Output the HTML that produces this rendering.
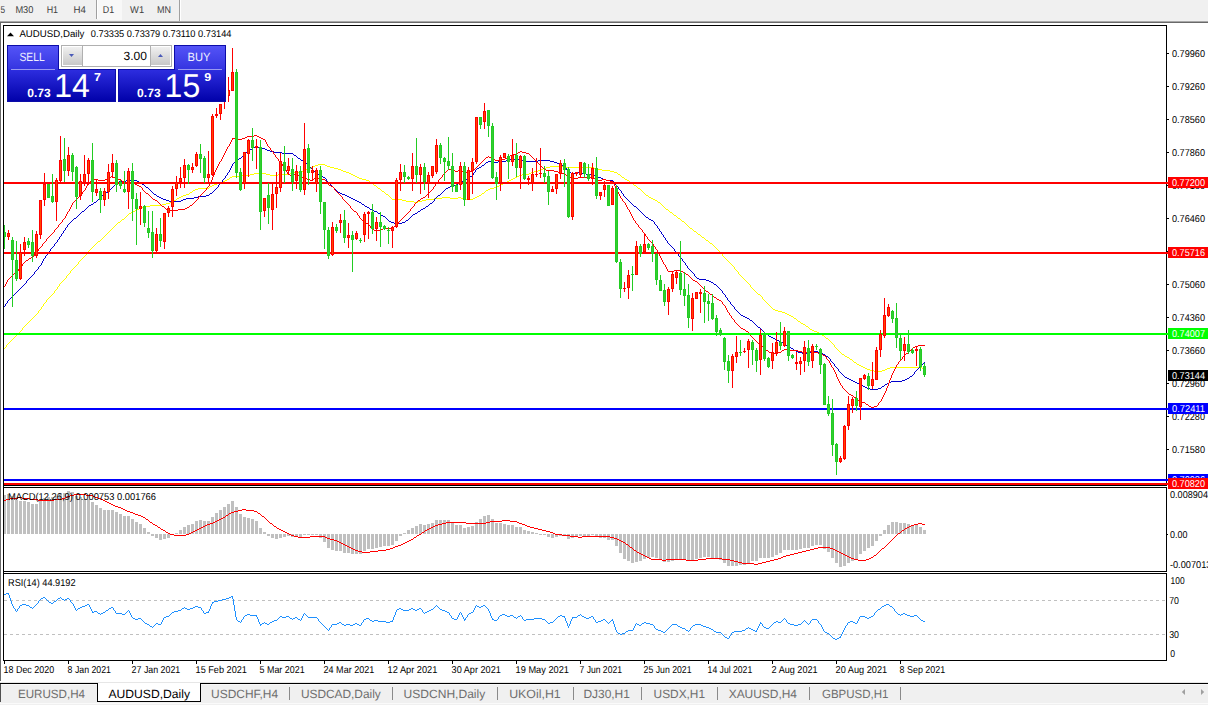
<!DOCTYPE html>
<html><head><meta charset="utf-8"><title>AUDUSD,Daily</title>
<style>html,body{margin:0;padding:0;background:#fff;overflow:hidden}svg{display:block;font-family:"Liberation Sans",sans-serif;text-rendering:geometricPrecision}rect{shape-rendering:crispEdges}</style></head>
<body>
<svg width="1208" height="705" viewBox="0 0 1208 705">
<rect x="0" y="0" width="1208" height="705" fill="#fff"/>
<rect x="0" y="0" width="1208" height="21" fill="#f0f0f0"/>
<rect x="0" y="21" width="1208" height="1" fill="#a8a8a8"/>
<rect x="0" y="22" width="1208" height="1" fill="#696969"/>
<rect x="0" y="22" width="1" height="659" fill="#696969"/>
<rect x="98" y="0" width="24" height="20" fill="#f8f8f8"/>
<rect x="96" y="0" width="1" height="19" fill="#a0a0a0"/>
<rect x="97" y="0" width="1" height="19" fill="#fff"/>
<rect x="179" y="0" width="1" height="21" fill="#a0a0a0"/>
<rect x="180" y="0" width="1" height="21" fill="#fff"/>
<text x="0.6" y="13" font-size="10" fill="#404040" textLength="4.6" lengthAdjust="spacingAndGlyphs">5</text>
<text x="15.4" y="13" font-size="10" fill="#404040" textLength="18.0" lengthAdjust="spacingAndGlyphs">M30</text>
<text x="46.7" y="13" font-size="10" fill="#404040" textLength="11.4" lengthAdjust="spacingAndGlyphs">H1</text>
<text x="73.5" y="13" font-size="10" fill="#404040" textLength="12.4" lengthAdjust="spacingAndGlyphs">H4</text>
<text x="102.8" y="13" font-size="10" fill="#404040" textLength="11.4" lengthAdjust="spacingAndGlyphs">D1</text>
<text x="130.1" y="13" font-size="10" fill="#404040" textLength="14.0" lengthAdjust="spacingAndGlyphs">W1</text>
<text x="157" y="13" font-size="10" fill="#404040" textLength="14.0" lengthAdjust="spacingAndGlyphs">MN</text>
<rect x="3" y="25" width="1164" height="1" fill="#000"/>
<rect x="3" y="25" width="1" height="636" fill="#000"/>
<rect x="1166" y="25" width="1" height="461" fill="#000"/>
<rect x="3" y="485" width="1164" height="1" fill="#000"/>
<rect x="3" y="487" width="1164" height="1" fill="#000"/>
<rect x="1166" y="487" width="1" height="85" fill="#000"/>
<rect x="3" y="571" width="1164" height="1" fill="#000"/>
<rect x="3" y="573" width="1164" height="1" fill="#000"/>
<rect x="1166" y="573" width="1" height="88" fill="#000"/>
<rect x="3" y="660" width="1164" height="1" fill="#000"/>
<rect x="3" y="486" width="1" height="1" fill="#000"/>
<rect x="3" y="572" width="1" height="1" fill="#000"/>
<g clip-path="url(#cm)">
<path d="M318 164h7v1h-7zM315 165h3v1h-3zM325 165h2v1h-2zM313 166h2v1h-2zM327 166h3v1h-3zM550 166h16v1h-16zM311 167h2v1h-2zM330 167h4v1h-4zM546 167h4v1h-4zM566 167h28v1h-28zM309 168h2v1h-2zM334 168h4v1h-4zM543 168h3v1h-3zM594 168h4v1h-4zM306 169h3v1h-3zM338 169h3v1h-3zM541 169h2v1h-2zM598 169h4v1h-4zM303 170h3v1h-3zM341 170h2v1h-2zM538 170h3v1h-3zM602 170h8v1h-8zM301 171h2v1h-2zM343 171h3v1h-3zM534 171h4v1h-4zM610 171h4v1h-4zM294 172h7v1h-7zM346 172h3v1h-3zM531 172h3v1h-3zM614 172h3v1h-3zM254 173h12v1h-12zM290 173h4v1h-4zM349 173h2v1h-2zM529 173h2v1h-2zM617 173h1v1h-1zM250 174h4v1h-4zM266 174h4v1h-4zM278 174h12v1h-12zM351 174h2v1h-2zM522 174h7v1h-7zM618 174h2v1h-2zM242 175h8v1h-8zM270 175h8v1h-8zM353 175h2v1h-2zM519 175h3v1h-3zM620 175h1v1h-1zM232 176h10v1h-10zM355 176h2v1h-2zM517 176h2v1h-2zM621 176h1v1h-1zM230 177h2v1h-2zM357 177h2v1h-2zM515 177h2v1h-2zM622 177h2v1h-2zM229 178h1v1h-1zM359 178h3v1h-3zM513 178h2v1h-2zM624 178h1v1h-1zM227 179h2v1h-2zM362 179h4v1h-4zM511 179h2v1h-2zM625 179h2v1h-2zM225 180h2v1h-2zM366 180h3v1h-3zM509 180h2v1h-2zM627 180h2v1h-2zM222 181h3v1h-3zM369 181h1v1h-1zM507 181h2v1h-2zM629 181h1v1h-1zM219 182h3v1h-3zM370 182h2v1h-2zM505 182h2v1h-2zM630 182h2v1h-2zM217 183h2v1h-2zM372 183h1v1h-1zM503 183h2v1h-2zM632 183h1v1h-1zM214 184h3v1h-3zM373 184h1v1h-1zM501 184h2v1h-2zM633 184h1v1h-1zM212 185h2v1h-2zM374 185h2v1h-2zM499 185h2v1h-2zM634 185h2v1h-2zM210 186h2v1h-2zM376 186h1v1h-1zM497 186h2v1h-2zM636 186h1v1h-1zM209 187h1v1h-1zM377 187h1v1h-1zM494 187h3v1h-3zM637 187h1v1h-1zM198 188h11v1h-11zM378 188h2v1h-2zM490 188h4v1h-4zM638 188h2v1h-2zM195 189h3v1h-3zM380 189h1v1h-1zM488 189h2v1h-2zM640 189h1v1h-1zM193 190h2v1h-2zM381 190h1v1h-1zM486 190h2v1h-2zM641 190h1v1h-1zM192 191h1v1h-1zM382 191h2v1h-2zM485 191h1v1h-1zM642 191h1v1h-1zM190 192h2v1h-2zM384 192h1v1h-1zM484 192h1v1h-1zM643 192h1v1h-1zM189 193h1v1h-1zM385 193h1v1h-1zM482 193h2v1h-2zM644 193h1v1h-1zM186 194h3v1h-3zM386 194h2v1h-2zM481 194h1v1h-1zM645 194h1v1h-1zM183 195h3v1h-3zM388 195h1v1h-1zM479 195h2v1h-2zM646 195h2v1h-2zM181 196h2v1h-2zM389 196h1v1h-1zM477 196h2v1h-2zM648 196h1v1h-1zM179 197h2v1h-2zM390 197h1v1h-1zM442 197h8v1h-8zM458 197h3v1h-3zM475 197h2v1h-2zM649 197h2v1h-2zM177 198h2v1h-2zM391 198h1v1h-1zM434 198h8v1h-8zM450 198h8v1h-8zM461 198h2v1h-2zM473 198h2v1h-2zM651 198h2v1h-2zM176 199h1v1h-1zM392 199h10v1h-10zM426 199h8v1h-8zM463 199h10v1h-10zM653 199h2v1h-2zM174 200h2v1h-2zM402 200h4v1h-4zM422 200h4v1h-4zM655 200h2v1h-2zM173 201h1v1h-1zM406 201h8v1h-8zM418 201h4v1h-4zM657 201h1v1h-1zM170 202h3v1h-3zM414 202h4v1h-4zM658 202h2v1h-2zM166 203h4v1h-4zM660 203h1v1h-1zM162 204h4v1h-4zM661 204h1v1h-1zM150 205h12v1h-12zM662 205h1v1h-1zM143 206h7v1h-7zM663 206h1v1h-1zM141 207h2v1h-2zM664 207h1v1h-1zM139 208h2v1h-2zM665 208h1v1h-1zM137 209h2v1h-2zM666 209h2v1h-2zM135 210h2v1h-2zM668 210h1v1h-1zM133 211h2v1h-2zM669 211h1v1h-1zM131 212h2v1h-2zM670 212h2v1h-2zM129 213h2v1h-2zM672 213h1v1h-1zM128 214h1v1h-1zM673 214h1v1h-1zM127 215h1v1h-1zM674 215h2v1h-2zM126 216h1v1h-1zM676 216h1v1h-1zM125 217h1v1h-1zM677 217h1v1h-1zM124 218h1v1h-1zM678 218h2v1h-2zM122 219h2v1h-2zM680 219h1v1h-1zM121 220h1v1h-1zM681 220h1v1h-1zM120 221h1v1h-1zM682 221h2v1h-2zM118 222h2v1h-2zM684 222h1v1h-1zM117 223h1v1h-1zM685 223h1v1h-1zM116 224h1v1h-1zM686 224h1v1h-1zM115 225h1v1h-1zM687 225h1v1h-1zM114 226h1v1h-1zM688 226h1v1h-1zM113 227h1v1h-1zM689 227h1v1h-1zM112 228h1v1h-1zM690 228h2v1h-2zM111 229h1v1h-1zM692 229h1v1h-1zM110 230h1v1h-1zM693 230h1v1h-1zM109 231h1v1h-1zM694 231h2v1h-2zM108 232h1v1h-1zM696 232h1v1h-1zM107 233h1v1h-1zM697 233h1v1h-1zM106 234h1v1h-1zM698 234h2v1h-2zM105 235h1v1h-1zM700 235h1v1h-1zM104 236h1v1h-1zM701 236h1v1h-1zM103 237h1v1h-1zM702 237h2v1h-2zM102 238h1v1h-1zM704 238h1v1h-1zM101 239h1v1h-1zM705 239h1v1h-1zM100 240h1v1h-1zM706 240h2v1h-2zM98 241h2v1h-2zM708 241h1v1h-1zM97 242h1v1h-1zM709 242h1v1h-1zM96 243h1v1h-1zM710 243h2v1h-2zM95 244h1v1h-1zM712 244h1v1h-1zM94 245h1v1h-1zM713 245h1v1h-1zM93 246h1v1h-1zM714 246h1v1h-1zM92 247h1v1h-1zM715 247h1v1h-1zM91 248h1v1h-1zM716 248h1v1h-1zM90 249h1v1h-1zM717 249h1v1h-1zM89 250h1v1h-1zM718 250h1v1h-1zM88 251h1v1h-1zM719 251h1v1h-1zM87 252h1v1h-1zM720 252h1v1h-1zM86 253h1v1h-1zM721 253h1v1h-1zM86 254h1v1h-1zM722 254h1v1h-1zM85 255h1v1h-1zM722 255h1v1h-1zM84 256h1v1h-1zM723 256h1v1h-1zM83 257h1v1h-1zM724 257h1v1h-1zM82 258h1v1h-1zM725 258h1v1h-1zM81 259h1v1h-1zM726 259h1v1h-1zM80 260h1v1h-1zM727 260h1v1h-1zM79 261h1v1h-1zM728 261h1v1h-1zM78 262h1v1h-1zM729 262h1v1h-1zM78 263h1v1h-1zM730 263h1v1h-1zM77 264h1v1h-1zM731 264h1v1h-1zM76 265h1v1h-1zM732 265h1v1h-1zM75 266h1v1h-1zM733 266h1v1h-1zM74 267h1v1h-1zM734 267h1v1h-1zM73 268h1v1h-1zM734 268h1v1h-1zM72 269h1v1h-1zM735 269h1v1h-1zM71 270h1v1h-1zM736 270h1v1h-1zM70 271h1v1h-1zM737 271h1v1h-1zM70 272h1v1h-1zM738 272h1v1h-1zM69 273h1v1h-1zM738 273h1v1h-1zM68 274h1v1h-1zM739 274h1v1h-1zM67 275h1v1h-1zM740 275h1v1h-1zM66 276h1v1h-1zM741 276h1v1h-1zM66 277h1v1h-1zM742 277h1v1h-1zM65 278h1v1h-1zM743 278h1v1h-1zM64 279h1v1h-1zM744 279h1v1h-1zM63 280h1v1h-1zM745 280h1v1h-1zM62 281h1v1h-1zM746 281h1v1h-1zM61 282h1v1h-1zM747 282h1v1h-1zM60 283h1v1h-1zM748 283h1v1h-1zM59 284h1v1h-1zM749 284h1v1h-1zM59 285h1v1h-1zM750 285h1v1h-1zM58 286h1v1h-1zM750 286h1v1h-1zM57 287h1v1h-1zM751 287h1v1h-1zM57 288h1v1h-1zM752 288h1v1h-1zM56 289h1v1h-1zM753 289h1v1h-1zM55 290h1v1h-1zM754 290h1v1h-1zM54 291h1v1h-1zM755 291h1v1h-1zM54 292h1v1h-1zM756 292h1v1h-1zM53 293h1v1h-1zM757 293h1v1h-1zM52 294h1v1h-1zM758 294h2v1h-2zM51 295h1v1h-1zM760 295h1v1h-1zM50 296h1v1h-1zM761 296h1v1h-1zM49 297h1v1h-1zM762 297h1v1h-1zM48 298h1v1h-1zM762 298h1v1h-1zM47 299h1v1h-1zM763 299h1v1h-1zM46 300h1v1h-1zM764 300h1v1h-1zM46 301h1v1h-1zM765 301h1v1h-1zM45 302h1v1h-1zM766 302h1v1h-1zM44 303h1v1h-1zM767 303h1v1h-1zM43 304h1v1h-1zM768 304h1v1h-1zM43 305h1v1h-1zM769 305h1v1h-1zM42 306h1v1h-1zM770 306h1v1h-1zM41 307h1v1h-1zM771 307h1v1h-1zM41 308h1v1h-1zM772 308h1v1h-1zM40 309h1v1h-1zM773 309h2v1h-2zM39 310h1v1h-1zM775 310h3v1h-3zM38 311h1v1h-1zM778 311h4v1h-4zM38 312h1v1h-1zM782 312h3v1h-3zM37 313h1v1h-1zM785 313h2v1h-2zM36 314h1v1h-1zM787 314h2v1h-2zM35 315h1v1h-1zM789 315h2v1h-2zM34 316h1v1h-1zM791 316h2v1h-2zM33 317h1v1h-1zM793 317h1v1h-1zM32 318h1v1h-1zM794 318h2v1h-2zM31 319h1v1h-1zM796 319h1v1h-1zM30 320h1v1h-1zM797 320h1v1h-1zM29 321h1v1h-1zM798 321h2v1h-2zM28 322h1v1h-1zM800 322h1v1h-1zM27 323h1v1h-1zM801 323h2v1h-2zM26 324h1v1h-1zM803 324h2v1h-2zM25 325h1v1h-1zM805 325h1v1h-1zM24 326h1v1h-1zM806 326h2v1h-2zM23 327h1v1h-1zM808 327h1v1h-1zM22 328h1v1h-1zM809 328h1v1h-1zM22 329h1v1h-1zM810 329h2v1h-2zM21 330h1v1h-1zM812 330h2v1h-2zM20 331h1v1h-1zM814 331h3v1h-3zM19 332h1v1h-1zM817 332h2v1h-2zM18 333h1v1h-1zM819 333h2v1h-2zM17 334h1v1h-1zM821 334h1v1h-1zM16 335h1v1h-1zM822 335h2v1h-2zM15 336h1v1h-1zM824 336h1v1h-1zM14 337h1v1h-1zM825 337h1v1h-1zM13 338h1v1h-1zM826 338h2v1h-2zM12 339h1v1h-1zM828 339h1v1h-1zM11 340h1v1h-1zM829 340h1v1h-1zM10 341h1v1h-1zM830 341h1v1h-1zM9 342h1v1h-1zM831 342h1v1h-1zM8 343h1v1h-1zM832 343h1v1h-1zM7 344h1v1h-1zM833 344h1v1h-1zM6 345h1v1h-1zM834 345h1v1h-1zM6 346h1v1h-1zM834 346h1v1h-1zM5 347h1v1h-1zM835 347h1v1h-1zM4 348h1v1h-1zM836 348h1v1h-1zM837 349h1v1h-1zM838 350h1v1h-1zM839 351h1v1h-1zM840 352h1v1h-1zM841 353h1v1h-1zM842 354h2v1h-2zM844 355h1v1h-1zM845 356h2v1h-2zM847 357h2v1h-2zM849 358h1v1h-1zM850 359h2v1h-2zM852 360h1v1h-1zM853 361h1v1h-1zM854 362h2v1h-2zM856 363h1v1h-1zM857 364h2v1h-2zM859 365h2v1h-2zM861 366h2v1h-2zM863 367h2v1h-2zM890 367h32v1h-32zM865 368h2v1h-2zM887 368h3v1h-3zM922 368h3v1h-3zM867 369h3v1h-3zM885 369h2v1h-2zM870 370h4v1h-4zM882 370h3v1h-3zM874 371h8v1h-8z" fill="#ffff00" shape-rendering="crispEdges"/>
<path d="M255 146h3v1h-3zM253 147h2v1h-2zM258 147h4v1h-4zM252 148h1v1h-1zM262 148h3v1h-3zM250 149h2v1h-2zM265 149h2v1h-2zM249 150h1v1h-1zM267 150h3v1h-3zM248 151h1v1h-1zM270 151h4v1h-4zM246 152h2v1h-2zM274 152h8v1h-8zM245 153h1v1h-1zM282 153h11v1h-11zM244 154h1v1h-1zM293 154h1v1h-1zM243 155h1v1h-1zM294 155h2v1h-2zM242 156h1v1h-1zM296 156h1v1h-1zM241 157h1v1h-1zM297 157h1v1h-1zM239 158h2v1h-2zM298 158h2v1h-2zM237 159h2v1h-2zM300 159h1v1h-1zM510 159h12v1h-12zM236 160h1v1h-1zM301 160h2v1h-2zM506 160h4v1h-4zM522 160h4v1h-4zM538 160h12v1h-12zM235 161h1v1h-1zM303 161h2v1h-2zM488 161h6v1h-6zM498 161h8v1h-8zM526 161h12v1h-12zM550 161h4v1h-4zM234 162h1v1h-1zM305 162h1v1h-1zM486 162h2v1h-2zM494 162h4v1h-4zM554 162h3v1h-3zM233 163h1v1h-1zM306 163h1v1h-1zM485 163h1v1h-1zM557 163h2v1h-2zM232 164h1v1h-1zM307 164h1v1h-1zM484 164h1v1h-1zM559 164h2v1h-2zM232 165h1v1h-1zM308 165h1v1h-1zM482 165h2v1h-2zM561 165h2v1h-2zM231 166h1v1h-1zM309 166h1v1h-1zM481 166h1v1h-1zM563 166h2v1h-2zM231 167h1v1h-1zM310 167h1v1h-1zM479 167h2v1h-2zM565 167h1v1h-1zM230 168h1v1h-1zM311 168h1v1h-1zM477 168h2v1h-2zM566 168h1v1h-1zM230 169h1v1h-1zM312 169h1v1h-1zM476 169h1v1h-1zM566 169h1v1h-1zM229 170h1v1h-1zM313 170h1v1h-1zM475 170h1v1h-1zM567 170h1v1h-1zM229 171h1v1h-1zM314 171h1v1h-1zM475 171h1v1h-1zM568 171h1v1h-1zM228 172h1v1h-1zM315 172h1v1h-1zM474 172h1v1h-1zM569 172h2v1h-2zM578 172h4v1h-4zM227 173h1v1h-1zM316 173h1v1h-1zM473 173h1v1h-1zM571 173h7v1h-7zM582 173h4v1h-4zM227 174h1v1h-1zM317 174h2v1h-2zM473 174h1v1h-1zM586 174h7v1h-7zM226 175h1v1h-1zM319 175h2v1h-2zM472 175h1v1h-1zM593 175h2v1h-2zM225 176h1v1h-1zM321 176h2v1h-2zM470 176h2v1h-2zM595 176h3v1h-3zM225 177h1v1h-1zM323 177h2v1h-2zM469 177h1v1h-1zM598 177h3v1h-3zM224 178h1v1h-1zM325 178h1v1h-1zM468 178h1v1h-1zM601 178h2v1h-2zM223 179h1v1h-1zM326 179h1v1h-1zM466 179h2v1h-2zM603 179h3v1h-3zM126 180h11v1h-11zM222 180h1v1h-1zM326 180h1v1h-1zM465 180h1v1h-1zM606 180h7v1h-7zM119 181h7v1h-7zM137 181h2v1h-2zM222 181h1v1h-1zM327 181h1v1h-1zM462 181h3v1h-3zM613 181h1v1h-1zM117 182h2v1h-2zM139 182h2v1h-2zM221 182h1v1h-1zM328 182h1v1h-1zM460 182h2v1h-2zM614 182h1v1h-1zM116 183h1v1h-1zM141 183h1v1h-1zM220 183h1v1h-1zM329 183h1v1h-1zM458 183h2v1h-2zM614 183h1v1h-1zM115 184h1v1h-1zM142 184h2v1h-2zM219 184h1v1h-1zM330 184h1v1h-1zM457 184h1v1h-1zM615 184h1v1h-1zM114 185h1v1h-1zM144 185h1v1h-1zM218 185h1v1h-1zM331 185h1v1h-1zM454 185h3v1h-3zM616 185h1v1h-1zM113 186h1v1h-1zM145 186h1v1h-1zM218 186h1v1h-1zM332 186h1v1h-1zM450 186h4v1h-4zM617 186h1v1h-1zM112 187h1v1h-1zM146 187h2v1h-2zM217 187h1v1h-1zM333 187h1v1h-1zM448 187h2v1h-2zM618 187h1v1h-1zM111 188h1v1h-1zM148 188h1v1h-1zM216 188h1v1h-1zM334 188h1v1h-1zM446 188h2v1h-2zM618 188h1v1h-1zM110 189h1v1h-1zM149 189h1v1h-1zM215 189h1v1h-1zM335 189h1v1h-1zM445 189h1v1h-1zM619 189h1v1h-1zM109 190h1v1h-1zM150 190h1v1h-1zM214 190h1v1h-1zM336 190h1v1h-1zM444 190h1v1h-1zM620 190h1v1h-1zM108 191h1v1h-1zM151 191h1v1h-1zM213 191h1v1h-1zM337 191h1v1h-1zM443 191h1v1h-1zM621 191h1v1h-1zM106 192h2v1h-2zM152 192h1v1h-1zM212 192h1v1h-1zM338 192h2v1h-2zM442 192h1v1h-1zM621 192h1v1h-1zM105 193h1v1h-1zM153 193h1v1h-1zM210 193h2v1h-2zM340 193h2v1h-2zM441 193h1v1h-1zM622 193h1v1h-1zM104 194h1v1h-1zM154 194h2v1h-2zM209 194h1v1h-1zM342 194h3v1h-3zM440 194h1v1h-1zM623 194h1v1h-1zM102 195h2v1h-2zM156 195h1v1h-1zM206 195h3v1h-3zM345 195h2v1h-2zM438 195h2v1h-2zM623 195h1v1h-1zM101 196h1v1h-1zM157 196h2v1h-2zM198 196h8v1h-8zM347 196h2v1h-2zM437 196h1v1h-1zM624 196h1v1h-1zM100 197h1v1h-1zM159 197h2v1h-2zM194 197h4v1h-4zM349 197h2v1h-2zM436 197h1v1h-1zM625 197h1v1h-1zM99 198h1v1h-1zM161 198h2v1h-2zM186 198h8v1h-8zM351 198h2v1h-2zM435 198h1v1h-1zM626 198h1v1h-1zM98 199h1v1h-1zM163 199h3v1h-3zM183 199h3v1h-3zM353 199h2v1h-2zM434 199h1v1h-1zM627 199h1v1h-1zM97 200h1v1h-1zM166 200h3v1h-3zM181 200h2v1h-2zM355 200h2v1h-2zM434 200h1v1h-1zM628 200h1v1h-1zM96 201h1v1h-1zM169 201h2v1h-2zM174 201h7v1h-7zM357 201h2v1h-2zM433 201h1v1h-1zM629 201h1v1h-1zM94 202h2v1h-2zM171 202h3v1h-3zM359 202h2v1h-2zM432 202h1v1h-1zM630 202h1v1h-1zM93 203h1v1h-1zM361 203h1v1h-1zM430 203h2v1h-2zM631 203h1v1h-1zM91 204h2v1h-2zM362 204h2v1h-2zM429 204h1v1h-1zM632 204h1v1h-1zM89 205h2v1h-2zM364 205h1v1h-1zM428 205h1v1h-1zM633 205h1v1h-1zM88 206h1v1h-1zM365 206h2v1h-2zM426 206h2v1h-2zM634 206h2v1h-2zM87 207h1v1h-1zM367 207h2v1h-2zM425 207h1v1h-1zM636 207h1v1h-1zM86 208h1v1h-1zM369 208h1v1h-1zM423 208h2v1h-2zM637 208h1v1h-1zM85 209h1v1h-1zM370 209h2v1h-2zM421 209h2v1h-2zM638 209h1v1h-1zM84 210h1v1h-1zM372 210h2v1h-2zM420 210h1v1h-1zM639 210h1v1h-1zM82 211h2v1h-2zM374 211h3v1h-3zM418 211h2v1h-2zM640 211h1v1h-1zM81 212h1v1h-1zM377 212h1v1h-1zM417 212h1v1h-1zM641 212h1v1h-1zM80 213h1v1h-1zM378 213h2v1h-2zM415 213h2v1h-2zM642 213h1v1h-1zM79 214h1v1h-1zM380 214h1v1h-1zM413 214h2v1h-2zM643 214h1v1h-1zM78 215h1v1h-1zM381 215h2v1h-2zM412 215h1v1h-1zM644 215h1v1h-1zM77 216h1v1h-1zM383 216h2v1h-2zM411 216h1v1h-1zM645 216h1v1h-1zM76 217h1v1h-1zM385 217h1v1h-1zM410 217h1v1h-1zM646 217h2v1h-2zM74 218h2v1h-2zM386 218h1v1h-1zM409 218h1v1h-1zM648 218h1v1h-1zM73 219h1v1h-1zM387 219h1v1h-1zM408 219h1v1h-1zM649 219h2v1h-2zM72 220h1v1h-1zM388 220h1v1h-1zM406 220h2v1h-2zM651 220h2v1h-2zM71 221h1v1h-1zM389 221h2v1h-2zM405 221h1v1h-1zM653 221h1v1h-1zM70 222h1v1h-1zM391 222h3v1h-3zM402 222h3v1h-3zM654 222h1v1h-1zM69 223h1v1h-1zM394 223h8v1h-8zM654 223h1v1h-1zM68 224h1v1h-1zM655 224h1v1h-1zM67 225h1v1h-1zM656 225h1v1h-1zM67 226h1v1h-1zM657 226h1v1h-1zM66 227h1v1h-1zM657 227h1v1h-1zM65 228h1v1h-1zM658 228h1v1h-1zM65 229h1v1h-1zM659 229h1v1h-1zM64 230h1v1h-1zM659 230h1v1h-1zM63 231h1v1h-1zM660 231h1v1h-1zM63 232h1v1h-1zM661 232h1v1h-1zM62 233h1v1h-1zM661 233h1v1h-1zM61 234h1v1h-1zM662 234h1v1h-1zM61 235h1v1h-1zM663 235h1v1h-1zM60 236h1v1h-1zM663 236h1v1h-1zM59 237h1v1h-1zM664 237h1v1h-1zM59 238h1v1h-1zM665 238h1v1h-1zM58 239h1v1h-1zM665 239h1v1h-1zM57 240h1v1h-1zM666 240h1v1h-1zM57 241h1v1h-1zM667 241h1v1h-1zM56 242h1v1h-1zM667 242h1v1h-1zM55 243h1v1h-1zM668 243h1v1h-1zM54 244h1v1h-1zM669 244h1v1h-1zM54 245h1v1h-1zM670 245h1v1h-1zM53 246h1v1h-1zM671 246h1v1h-1zM52 247h1v1h-1zM672 247h1v1h-1zM51 248h1v1h-1zM673 248h1v1h-1zM50 249h1v1h-1zM674 249h1v1h-1zM50 250h1v1h-1zM674 250h1v1h-1zM49 251h1v1h-1zM675 251h1v1h-1zM48 252h1v1h-1zM676 252h1v1h-1zM47 253h1v1h-1zM677 253h1v1h-1zM47 254h1v1h-1zM678 254h1v1h-1zM46 255h1v1h-1zM678 255h1v1h-1zM45 256h1v1h-1zM679 256h1v1h-1zM45 257h1v1h-1zM680 257h1v1h-1zM44 258h1v1h-1zM681 258h1v1h-1zM43 259h1v1h-1zM682 259h1v1h-1zM43 260h1v1h-1zM682 260h1v1h-1zM42 261h1v1h-1zM683 261h1v1h-1zM42 262h1v1h-1zM684 262h1v1h-1zM41 263h1v1h-1zM685 263h1v1h-1zM41 264h1v1h-1zM685 264h1v1h-1zM40 265h1v1h-1zM686 265h1v1h-1zM39 266h1v1h-1zM687 266h1v1h-1zM38 267h1v1h-1zM687 267h1v1h-1zM38 268h1v1h-1zM688 268h1v1h-1zM37 269h1v1h-1zM689 269h1v1h-1zM36 270h1v1h-1zM690 270h1v1h-1zM35 271h1v1h-1zM691 271h1v1h-1zM34 272h1v1h-1zM692 272h1v1h-1zM34 273h1v1h-1zM693 273h1v1h-1zM33 274h1v1h-1zM694 274h1v1h-1zM32 275h1v1h-1zM694 275h1v1h-1zM31 276h1v1h-1zM695 276h1v1h-1zM30 277h1v1h-1zM696 277h1v1h-1zM29 278h1v1h-1zM697 278h2v1h-2zM28 279h1v1h-1zM699 279h7v1h-7zM27 280h1v1h-1zM706 280h3v1h-3zM26 281h1v1h-1zM709 281h2v1h-2zM26 282h1v1h-1zM711 282h2v1h-2zM25 283h1v1h-1zM713 283h1v1h-1zM24 284h1v1h-1zM714 284h2v1h-2zM23 285h1v1h-1zM716 285h1v1h-1zM22 286h1v1h-1zM717 286h1v1h-1zM21 287h1v1h-1zM718 287h1v1h-1zM20 288h1v1h-1zM719 288h1v1h-1zM19 289h1v1h-1zM720 289h1v1h-1zM18 290h1v1h-1zM721 290h1v1h-1zM17 291h1v1h-1zM722 291h1v1h-1zM16 292h1v1h-1zM722 292h1v1h-1zM15 293h1v1h-1zM723 293h1v1h-1zM14 294h1v1h-1zM724 294h1v1h-1zM13 295h1v1h-1zM725 295h1v1h-1zM12 296h1v1h-1zM725 296h1v1h-1zM11 297h1v1h-1zM726 297h1v1h-1zM10 298h1v1h-1zM727 298h1v1h-1zM9 299h1v1h-1zM727 299h1v1h-1zM8 300h1v1h-1zM728 300h1v1h-1zM7 301h1v1h-1zM729 301h1v1h-1zM7 302h1v1h-1zM730 302h1v1h-1zM6 303h1v1h-1zM730 303h1v1h-1zM5 304h1v1h-1zM731 304h1v1h-1zM5 305h1v1h-1zM732 305h1v1h-1zM4 306h1v1h-1zM733 306h1v1h-1zM734 307h1v1h-1zM734 308h1v1h-1zM735 309h1v1h-1zM736 310h1v1h-1zM737 311h1v1h-1zM738 312h1v1h-1zM739 313h1v1h-1zM740 314h1v1h-1zM741 315h2v1h-2zM743 316h2v1h-2zM745 317h2v1h-2zM747 318h2v1h-2zM749 319h1v1h-1zM750 320h2v1h-2zM752 321h1v1h-1zM753 322h1v1h-1zM754 323h1v1h-1zM755 324h1v1h-1zM756 325h1v1h-1zM757 326h1v1h-1zM758 327h2v1h-2zM760 328h1v1h-1zM761 329h1v1h-1zM762 330h1v1h-1zM763 331h1v1h-1zM764 332h1v1h-1zM765 333h1v1h-1zM766 334h2v1h-2zM768 335h1v1h-1zM769 336h2v1h-2zM771 337h2v1h-2zM773 338h2v1h-2zM775 339h2v1h-2zM777 340h2v1h-2zM779 341h2v1h-2zM781 342h2v1h-2zM783 343h2v1h-2zM785 344h1v1h-1zM786 345h2v1h-2zM788 346h1v1h-1zM789 347h2v1h-2zM791 348h2v1h-2zM793 349h1v1h-1zM794 350h2v1h-2zM796 351h2v1h-2zM811 351h7v1h-7zM798 352h4v1h-4zM809 352h2v1h-2zM818 352h3v1h-3zM802 353h7v1h-7zM821 353h2v1h-2zM823 354h2v1h-2zM825 355h1v1h-1zM826 356h2v1h-2zM828 357h1v1h-1zM829 358h1v1h-1zM830 359h1v1h-1zM830 360h1v1h-1zM831 361h1v1h-1zM832 362h1v1h-1zM924 362h1v1h-1zM833 363h1v1h-1zM923 363h1v1h-1zM834 364h1v1h-1zM922 364h1v1h-1zM834 365h1v1h-1zM921 365h1v1h-1zM835 366h1v1h-1zM920 366h1v1h-1zM836 367h1v1h-1zM919 367h1v1h-1zM837 368h1v1h-1zM918 368h1v1h-1zM838 369h1v1h-1zM917 369h1v1h-1zM838 370h1v1h-1zM916 370h1v1h-1zM839 371h1v1h-1zM915 371h1v1h-1zM840 372h1v1h-1zM914 372h1v1h-1zM841 373h1v1h-1zM914 373h1v1h-1zM842 374h1v1h-1zM913 374h1v1h-1zM843 375h1v1h-1zM912 375h1v1h-1zM844 376h1v1h-1zM910 376h2v1h-2zM845 377h2v1h-2zM909 377h1v1h-1zM847 378h2v1h-2zM907 378h2v1h-2zM849 379h2v1h-2zM905 379h2v1h-2zM851 380h2v1h-2zM902 380h3v1h-3zM853 381h2v1h-2zM891 381h11v1h-11zM855 382h2v1h-2zM889 382h2v1h-2zM857 383h2v1h-2zM887 383h2v1h-2zM859 384h2v1h-2zM885 384h2v1h-2zM861 385h2v1h-2zM884 385h1v1h-1zM863 386h2v1h-2zM882 386h2v1h-2zM865 387h2v1h-2zM881 387h1v1h-1zM867 388h3v1h-3zM878 388h3v1h-3zM870 389h8v1h-8z" fill="#0000cd" shape-rendering="crispEdges"/>
<path d="M254 135h3v1h-3zM247 136h7v1h-7zM257 136h2v1h-2zM245 137h2v1h-2zM259 137h2v1h-2zM232 138h6v1h-6zM242 138h3v1h-3zM261 138h2v1h-2zM232 139h1v1h-1zM238 139h4v1h-4zM263 139h2v1h-2zM231 140h1v1h-1zM265 140h1v1h-1zM231 141h1v1h-1zM265 141h1v1h-1zM230 142h1v1h-1zM266 142h1v1h-1zM230 143h1v1h-1zM266 143h1v1h-1zM229 144h1v1h-1zM267 144h1v1h-1zM229 145h1v1h-1zM267 145h1v1h-1zM228 146h1v1h-1zM268 146h1v1h-1zM227 147h1v1h-1zM269 147h1v1h-1zM227 148h1v1h-1zM270 148h1v1h-1zM226 149h1v1h-1zM270 149h1v1h-1zM226 150h1v1h-1zM271 150h1v1h-1zM225 151h1v1h-1zM272 151h1v1h-1zM520 151h2v1h-2zM225 152h1v1h-1zM273 152h1v1h-1zM518 152h2v1h-2zM522 152h4v1h-4zM224 153h1v1h-1zM273 153h1v1h-1zM517 153h1v1h-1zM526 153h3v1h-3zM224 154h1v1h-1zM274 154h1v1h-1zM512 154h5v1h-5zM529 154h1v1h-1zM223 155h1v1h-1zM275 155h1v1h-1zM510 155h2v1h-2zM530 155h1v1h-1zM223 156h1v1h-1zM275 156h1v1h-1zM488 156h1v1h-1zM509 156h1v1h-1zM531 156h1v1h-1zM222 157h1v1h-1zM276 157h1v1h-1zM486 157h2v1h-2zM489 157h2v1h-2zM507 157h2v1h-2zM532 157h1v1h-1zM222 158h1v1h-1zM277 158h1v1h-1zM485 158h1v1h-1zM491 158h2v1h-2zM505 158h2v1h-2zM533 158h1v1h-1zM221 159h1v1h-1zM278 159h1v1h-1zM484 159h1v1h-1zM493 159h2v1h-2zM502 159h3v1h-3zM534 159h1v1h-1zM221 160h1v1h-1zM278 160h1v1h-1zM483 160h1v1h-1zM495 160h7v1h-7zM535 160h1v1h-1zM220 161h1v1h-1zM279 161h1v1h-1zM482 161h1v1h-1zM536 161h1v1h-1zM219 162h1v1h-1zM280 162h1v1h-1zM481 162h1v1h-1zM537 162h1v1h-1zM219 163h1v1h-1zM281 163h1v1h-1zM480 163h1v1h-1zM538 163h1v1h-1zM218 164h1v1h-1zM282 164h1v1h-1zM479 164h1v1h-1zM539 164h1v1h-1zM218 165h1v1h-1zM282 165h1v1h-1zM478 165h1v1h-1zM540 165h1v1h-1zM217 166h1v1h-1zM283 166h1v1h-1zM477 166h1v1h-1zM541 166h1v1h-1zM217 167h1v1h-1zM284 167h1v1h-1zM476 167h1v1h-1zM542 167h1v1h-1zM216 168h1v1h-1zM285 168h1v1h-1zM475 168h1v1h-1zM543 168h1v1h-1zM216 169h1v1h-1zM285 169h1v1h-1zM448 169h5v1h-5zM474 169h1v1h-1zM544 169h2v1h-2zM215 170h1v1h-1zM286 170h1v1h-1zM447 170h1v1h-1zM453 170h2v1h-2zM458 170h3v1h-3zM473 170h1v1h-1zM546 170h8v1h-8zM215 171h1v1h-1zM286 171h1v1h-1zM446 171h1v1h-1zM455 171h3v1h-3zM461 171h2v1h-2zM470 171h3v1h-3zM554 171h4v1h-4zM214 172h1v1h-1zM287 172h1v1h-1zM445 172h1v1h-1zM463 172h7v1h-7zM558 172h4v1h-4zM214 173h1v1h-1zM287 173h1v1h-1zM444 173h1v1h-1zM562 173h3v1h-3zM214 174h1v1h-1zM288 174h2v1h-2zM294 174h3v1h-3zM443 174h1v1h-1zM565 174h1v1h-1zM213 175h1v1h-1zM290 175h4v1h-4zM297 175h2v1h-2zM442 175h1v1h-1zM566 175h1v1h-1zM111 176h2v1h-2zM213 176h1v1h-1zM299 176h3v1h-3zM442 176h1v1h-1zM567 176h1v1h-1zM109 177h2v1h-2zM113 177h2v1h-2zM212 177h1v1h-1zM302 177h3v1h-3zM316 177h2v1h-2zM441 177h1v1h-1zM568 177h6v1h-6zM578 177h15v1h-15zM107 178h2v1h-2zM115 178h3v1h-3zM212 178h1v1h-1zM305 178h2v1h-2zM314 178h2v1h-2zM318 178h4v1h-4zM440 178h1v1h-1zM574 178h4v1h-4zM593 178h2v1h-2zM94 179h4v1h-4zM105 179h2v1h-2zM118 179h3v1h-3zM212 179h1v1h-1zM307 179h3v1h-3zM313 179h1v1h-1zM322 179h3v1h-3zM439 179h1v1h-1zM595 179h3v1h-3zM602 179h4v1h-4zM92 180h2v1h-2zM98 180h7v1h-7zM121 180h1v1h-1zM211 180h1v1h-1zM310 180h3v1h-3zM325 180h1v1h-1zM438 180h1v1h-1zM598 180h4v1h-4zM606 180h4v1h-4zM90 181h2v1h-2zM122 181h2v1h-2zM211 181h1v1h-1zM326 181h1v1h-1zM438 181h1v1h-1zM610 181h3v1h-3zM89 182h1v1h-1zM124 182h9v1h-9zM210 182h1v1h-1zM326 182h1v1h-1zM437 182h1v1h-1zM613 182h1v1h-1zM88 183h1v1h-1zM133 183h2v1h-2zM210 183h1v1h-1zM327 183h1v1h-1zM436 183h1v1h-1zM613 183h1v1h-1zM87 184h1v1h-1zM135 184h2v1h-2zM209 184h1v1h-1zM328 184h1v1h-1zM435 184h1v1h-1zM614 184h1v1h-1zM87 185h1v1h-1zM137 185h2v1h-2zM209 185h1v1h-1zM329 185h2v1h-2zM435 185h1v1h-1zM614 185h1v1h-1zM86 186h1v1h-1zM139 186h2v1h-2zM208 186h1v1h-1zM331 186h2v1h-2zM434 186h1v1h-1zM615 186h1v1h-1zM86 187h1v1h-1zM141 187h1v1h-1zM207 187h1v1h-1zM333 187h1v1h-1zM433 187h1v1h-1zM615 187h1v1h-1zM85 188h1v1h-1zM142 188h1v1h-1zM206 188h1v1h-1zM334 188h1v1h-1zM433 188h1v1h-1zM616 188h1v1h-1zM85 189h1v1h-1zM142 189h1v1h-1zM206 189h1v1h-1zM334 189h1v1h-1zM432 189h1v1h-1zM616 189h1v1h-1zM84 190h1v1h-1zM143 190h1v1h-1zM205 190h1v1h-1zM335 190h1v1h-1zM431 190h1v1h-1zM617 190h1v1h-1zM83 191h1v1h-1zM144 191h1v1h-1zM204 191h1v1h-1zM336 191h1v1h-1zM430 191h1v1h-1zM617 191h1v1h-1zM82 192h1v1h-1zM145 192h1v1h-1zM203 192h1v1h-1zM337 192h1v1h-1zM429 192h1v1h-1zM618 192h1v1h-1zM82 193h1v1h-1zM146 193h2v1h-2zM202 193h1v1h-1zM338 193h1v1h-1zM428 193h1v1h-1zM618 193h1v1h-1zM81 194h1v1h-1zM148 194h1v1h-1zM201 194h1v1h-1zM339 194h1v1h-1zM427 194h1v1h-1zM619 194h1v1h-1zM80 195h1v1h-1zM149 195h1v1h-1zM200 195h1v1h-1zM340 195h1v1h-1zM426 195h1v1h-1zM619 195h1v1h-1zM79 196h1v1h-1zM150 196h1v1h-1zM199 196h1v1h-1zM341 196h1v1h-1zM425 196h1v1h-1zM620 196h1v1h-1zM78 197h1v1h-1zM151 197h1v1h-1zM198 197h1v1h-1zM342 197h1v1h-1zM423 197h2v1h-2zM620 197h1v1h-1zM77 198h1v1h-1zM152 198h1v1h-1zM198 198h1v1h-1zM342 198h1v1h-1zM421 198h2v1h-2zM621 198h1v1h-1zM76 199h1v1h-1zM153 199h2v1h-2zM197 199h1v1h-1zM343 199h1v1h-1zM420 199h1v1h-1zM622 199h1v1h-1zM75 200h1v1h-1zM155 200h2v1h-2zM196 200h1v1h-1zM344 200h1v1h-1zM418 200h2v1h-2zM622 200h1v1h-1zM74 201h1v1h-1zM157 201h1v1h-1zM195 201h1v1h-1zM345 201h1v1h-1zM417 201h1v1h-1zM623 201h1v1h-1zM73 202h1v1h-1zM158 202h1v1h-1zM194 202h1v1h-1zM346 202h1v1h-1zM416 202h1v1h-1zM624 202h1v1h-1zM72 203h1v1h-1zM159 203h1v1h-1zM193 203h1v1h-1zM347 203h1v1h-1zM415 203h1v1h-1zM625 203h1v1h-1zM72 204h1v1h-1zM160 204h1v1h-1zM192 204h1v1h-1zM348 204h1v1h-1zM414 204h1v1h-1zM625 204h1v1h-1zM71 205h1v1h-1zM161 205h1v1h-1zM190 205h2v1h-2zM349 205h1v1h-1zM414 205h1v1h-1zM626 205h1v1h-1zM71 206h1v1h-1zM162 206h2v1h-2zM189 206h1v1h-1zM350 206h1v1h-1zM413 206h1v1h-1zM626 206h1v1h-1zM70 207h1v1h-1zM164 207h1v1h-1zM187 207h2v1h-2zM350 207h1v1h-1zM412 207h1v1h-1zM627 207h1v1h-1zM70 208h1v1h-1zM165 208h1v1h-1zM185 208h2v1h-2zM351 208h1v1h-1zM411 208h1v1h-1zM627 208h1v1h-1zM69 209h1v1h-1zM166 209h2v1h-2zM178 209h7v1h-7zM352 209h1v1h-1zM410 209h1v1h-1zM628 209h1v1h-1zM69 210h1v1h-1zM168 210h10v1h-10zM353 210h1v1h-1zM410 210h1v1h-1zM629 210h1v1h-1zM68 211h1v1h-1zM354 211h2v1h-2zM409 211h1v1h-1zM629 211h1v1h-1zM67 212h1v1h-1zM356 212h1v1h-1zM408 212h1v1h-1zM630 212h1v1h-1zM67 213h1v1h-1zM357 213h1v1h-1zM407 213h1v1h-1zM630 213h1v1h-1zM66 214h1v1h-1zM357 214h1v1h-1zM406 214h1v1h-1zM631 214h1v1h-1zM66 215h1v1h-1zM358 215h1v1h-1zM405 215h1v1h-1zM631 215h1v1h-1zM65 216h1v1h-1zM359 216h1v1h-1zM404 216h1v1h-1zM632 216h1v1h-1zM65 217h1v1h-1zM359 217h1v1h-1zM403 217h1v1h-1zM632 217h1v1h-1zM64 218h1v1h-1zM360 218h1v1h-1zM402 218h1v1h-1zM633 218h1v1h-1zM63 219h1v1h-1zM361 219h1v1h-1zM401 219h1v1h-1zM633 219h1v1h-1zM62 220h1v1h-1zM362 220h2v1h-2zM400 220h1v1h-1zM634 220h1v1h-1zM62 221h1v1h-1zM364 221h1v1h-1zM399 221h1v1h-1zM635 221h1v1h-1zM61 222h1v1h-1zM365 222h1v1h-1zM398 222h1v1h-1zM635 222h1v1h-1zM60 223h1v1h-1zM366 223h2v1h-2zM398 223h1v1h-1zM636 223h1v1h-1zM59 224h1v1h-1zM368 224h1v1h-1zM397 224h1v1h-1zM637 224h1v1h-1zM58 225h1v1h-1zM369 225h1v1h-1zM396 225h1v1h-1zM638 225h1v1h-1zM58 226h1v1h-1zM370 226h1v1h-1zM394 226h2v1h-2zM638 226h1v1h-1zM57 227h1v1h-1zM370 227h1v1h-1zM393 227h1v1h-1zM639 227h1v1h-1zM56 228h1v1h-1zM371 228h1v1h-1zM383 228h10v1h-10zM640 228h1v1h-1zM55 229h1v1h-1zM372 229h2v1h-2zM381 229h2v1h-2zM641 229h1v1h-1zM54 230h1v1h-1zM374 230h7v1h-7zM642 230h1v1h-1zM54 231h1v1h-1zM642 231h1v1h-1zM53 232h1v1h-1zM643 232h1v1h-1zM52 233h1v1h-1zM644 233h1v1h-1zM51 234h1v1h-1zM645 234h1v1h-1zM50 235h1v1h-1zM645 235h1v1h-1zM49 236h1v1h-1zM646 236h1v1h-1zM48 237h1v1h-1zM647 237h1v1h-1zM47 238h1v1h-1zM647 238h1v1h-1zM46 239h1v1h-1zM648 239h1v1h-1zM46 240h1v1h-1zM649 240h1v1h-1zM45 241h1v1h-1zM650 241h1v1h-1zM44 242h1v1h-1zM651 242h1v1h-1zM43 243h1v1h-1zM652 243h1v1h-1zM42 244h1v1h-1zM653 244h1v1h-1zM42 245h1v1h-1zM653 245h1v1h-1zM41 246h1v1h-1zM654 246h1v1h-1zM40 247h1v1h-1zM655 247h1v1h-1zM39 248h1v1h-1zM655 248h1v1h-1zM38 249h1v1h-1zM656 249h1v1h-1zM38 250h1v1h-1zM657 250h1v1h-1zM37 251h1v1h-1zM657 251h1v1h-1zM36 252h1v1h-1zM658 252h1v1h-1zM35 253h1v1h-1zM658 253h1v1h-1zM34 254h1v1h-1zM659 254h1v1h-1zM34 255h1v1h-1zM659 255h1v1h-1zM33 256h1v1h-1zM660 256h1v1h-1zM31 257h2v1h-2zM660 257h1v1h-1zM29 258h2v1h-2zM661 258h1v1h-1zM28 259h1v1h-1zM661 259h1v1h-1zM26 260h2v1h-2zM662 260h1v1h-1zM25 261h1v1h-1zM662 261h1v1h-1zM24 262h1v1h-1zM663 262h1v1h-1zM23 263h1v1h-1zM663 263h1v1h-1zM22 264h1v1h-1zM664 264h1v1h-1zM22 265h1v1h-1zM665 265h1v1h-1zM21 266h1v1h-1zM665 266h1v1h-1zM20 267h1v1h-1zM666 267h1v1h-1zM19 268h1v1h-1zM666 268h1v1h-1zM18 269h1v1h-1zM667 269h1v1h-1zM18 270h1v1h-1zM667 270h1v1h-1zM674 270h7v1h-7zM17 271h1v1h-1zM668 271h6v1h-6zM681 271h2v1h-2zM16 272h1v1h-1zM683 272h2v1h-2zM14 273h2v1h-2zM685 273h1v1h-1zM13 274h1v1h-1zM686 274h2v1h-2zM12 275h1v1h-1zM688 275h1v1h-1zM11 276h1v1h-1zM689 276h1v1h-1zM10 277h1v1h-1zM690 277h1v1h-1zM9 278h1v1h-1zM691 278h1v1h-1zM8 279h1v1h-1zM692 279h1v1h-1zM7 280h1v1h-1zM693 280h2v1h-2zM7 281h1v1h-1zM695 281h2v1h-2zM6 282h1v1h-1zM697 282h1v1h-1zM6 283h1v1h-1zM698 283h1v1h-1zM5 284h1v1h-1zM699 284h1v1h-1zM5 285h1v1h-1zM700 285h1v1h-1zM4 286h1v1h-1zM701 286h1v1h-1zM702 287h1v1h-1zM703 288h1v1h-1zM704 289h1v1h-1zM705 290h1v1h-1zM706 291h2v1h-2zM708 292h1v1h-1zM709 293h1v1h-1zM710 294h2v1h-2zM712 295h1v1h-1zM713 296h1v1h-1zM714 297h2v1h-2zM716 298h1v1h-1zM717 299h2v1h-2zM719 300h2v1h-2zM721 301h1v1h-1zM722 302h1v1h-1zM722 303h1v1h-1zM723 304h1v1h-1zM724 305h1v1h-1zM725 306h1v1h-1zM725 307h1v1h-1zM726 308h1v1h-1zM726 309h1v1h-1zM727 310h1v1h-1zM727 311h1v1h-1zM728 312h1v1h-1zM729 313h1v1h-1zM729 314h1v1h-1zM730 315h1v1h-1zM731 316h1v1h-1zM731 317h1v1h-1zM732 318h1v1h-1zM733 319h1v1h-1zM734 320h1v1h-1zM734 321h1v1h-1zM735 322h1v1h-1zM736 323h1v1h-1zM737 324h1v1h-1zM738 325h1v1h-1zM739 326h1v1h-1zM740 327h1v1h-1zM741 328h2v1h-2zM743 329h2v1h-2zM745 330h1v1h-1zM746 331h2v1h-2zM748 332h1v1h-1zM749 333h1v1h-1zM750 334h1v1h-1zM750 335h1v1h-1zM751 336h1v1h-1zM752 337h1v1h-1zM753 338h1v1h-1zM754 339h1v1h-1zM755 340h1v1h-1zM756 341h1v1h-1zM757 342h1v1h-1zM758 343h2v1h-2zM760 344h1v1h-1zM761 345h1v1h-1zM918 345h7v1h-7zM762 346h1v1h-1zM915 346h3v1h-3zM763 347h1v1h-1zM913 347h2v1h-2zM764 348h1v1h-1zM912 348h1v1h-1zM765 349h1v1h-1zM784 349h6v1h-6zM911 349h1v1h-1zM766 350h2v1h-2zM782 350h2v1h-2zM790 350h8v1h-8zM910 350h1v1h-1zM768 351h1v1h-1zM781 351h1v1h-1zM798 351h4v1h-4zM810 351h4v1h-4zM909 351h1v1h-1zM769 352h2v1h-2zM778 352h3v1h-3zM802 352h8v1h-8zM814 352h4v1h-4zM908 352h1v1h-1zM771 353h7v1h-7zM818 353h3v1h-3zM906 353h2v1h-2zM821 354h2v1h-2zM905 354h1v1h-1zM823 355h2v1h-2zM904 355h1v1h-1zM825 356h1v1h-1zM903 356h1v1h-1zM826 357h1v1h-1zM902 357h1v1h-1zM826 358h1v1h-1zM902 358h1v1h-1zM827 359h1v1h-1zM901 359h1v1h-1zM828 360h1v1h-1zM900 360h1v1h-1zM829 361h1v1h-1zM899 361h1v1h-1zM829 362h1v1h-1zM898 362h1v1h-1zM830 363h1v1h-1zM898 363h1v1h-1zM830 364h1v1h-1zM897 364h1v1h-1zM831 365h1v1h-1zM896 365h1v1h-1zM831 366h1v1h-1zM896 366h1v1h-1zM832 367h1v1h-1zM895 367h1v1h-1zM833 368h1v1h-1zM895 368h1v1h-1zM833 369h1v1h-1zM894 369h1v1h-1zM834 370h1v1h-1zM894 370h1v1h-1zM834 371h1v1h-1zM893 371h1v1h-1zM835 372h1v1h-1zM893 372h1v1h-1zM835 373h1v1h-1zM892 373h1v1h-1zM836 374h1v1h-1zM892 374h1v1h-1zM836 375h1v1h-1zM891 375h1v1h-1zM836 376h1v1h-1zM891 376h1v1h-1zM837 377h1v1h-1zM891 377h1v1h-1zM837 378h1v1h-1zM890 378h1v1h-1zM838 379h1v1h-1zM890 379h1v1h-1zM838 380h1v1h-1zM889 380h1v1h-1zM839 381h1v1h-1zM889 381h1v1h-1zM839 382h1v1h-1zM889 382h1v1h-1zM840 383h1v1h-1zM888 383h1v1h-1zM840 384h1v1h-1zM888 384h1v1h-1zM841 385h1v1h-1zM888 385h1v1h-1zM842 386h1v1h-1zM887 386h1v1h-1zM842 387h1v1h-1zM887 387h1v1h-1zM843 388h1v1h-1zM886 388h1v1h-1zM844 389h1v1h-1zM886 389h1v1h-1zM845 390h1v1h-1zM886 390h1v1h-1zM846 391h1v1h-1zM885 391h1v1h-1zM847 392h1v1h-1zM885 392h1v1h-1zM848 393h1v1h-1zM884 393h1v1h-1zM849 394h2v1h-2zM884 394h1v1h-1zM851 395h2v1h-2zM883 395h1v1h-1zM853 396h1v1h-1zM883 396h1v1h-1zM854 397h2v1h-2zM882 397h1v1h-1zM856 398h1v1h-1zM882 398h1v1h-1zM857 399h1v1h-1zM881 399h1v1h-1zM858 400h2v1h-2zM881 400h1v1h-1zM860 401h2v1h-2zM880 401h1v1h-1zM862 402h3v1h-3zM879 402h1v1h-1zM865 403h1v1h-1zM878 403h1v1h-1zM866 404h2v1h-2zM878 404h1v1h-1zM868 405h1v1h-1zM877 405h1v1h-1zM869 406h2v1h-2zM874 406h3v1h-3zM871 407h3v1h-3z" fill="#ff0000" shape-rendering="crispEdges"/>
<rect x="4" y="182" width="1162" height="2" fill="#ff0000"/>
<rect x="4" y="252" width="1162" height="2" fill="#ff0000"/>
<rect x="4" y="333" width="1162" height="2" fill="#00ff00"/>
<rect x="4" y="408" width="1162" height="2" fill="#0000ff"/>
<rect x="4" y="479" width="1162" height="2" fill="#0000ff"/>
<rect x="4" y="483" width="1162" height="2" fill="#ff0000"/>
<rect x="4" y="225" width="1" height="24" fill="#22cc22"/>
<rect x="3" y="232" width="3" height="5" fill="#22cc22"/>
<rect x="4" y="233" width="1" height="3" fill="#32cd32"/>
<rect x="8" y="230" width="1" height="10" fill="#ff0000"/>
<rect x="7" y="233" width="3" height="4" fill="#ff0000"/>
<rect x="8" y="234" width="1" height="2" fill="#ff4500"/>
<rect x="12" y="237" width="1" height="70" fill="#22cc22"/>
<rect x="11" y="240" width="3" height="20" fill="#22cc22"/>
<rect x="12" y="241" width="1" height="18" fill="#32cd32"/>
<rect x="16" y="241" width="1" height="40" fill="#22cc22"/>
<rect x="15" y="260" width="3" height="19" fill="#22cc22"/>
<rect x="16" y="261" width="1" height="17" fill="#32cd32"/>
<rect x="20" y="244" width="1" height="36" fill="#ff0000"/>
<rect x="19" y="252" width="3" height="27" fill="#ff0000"/>
<rect x="20" y="253" width="1" height="25" fill="#ff4500"/>
<rect x="24" y="237" width="1" height="19" fill="#ff0000"/>
<rect x="23" y="242" width="3" height="8" fill="#ff0000"/>
<rect x="24" y="243" width="1" height="6" fill="#ff4500"/>
<rect x="28" y="238" width="1" height="10" fill="#22cc22"/>
<rect x="27" y="241" width="3" height="4" fill="#22cc22"/>
<rect x="28" y="242" width="1" height="2" fill="#32cd32"/>
<rect x="32" y="230" width="1" height="32" fill="#22cc22"/>
<rect x="31" y="242" width="3" height="14" fill="#22cc22"/>
<rect x="32" y="243" width="1" height="12" fill="#32cd32"/>
<rect x="36" y="231" width="1" height="27" fill="#ff0000"/>
<rect x="35" y="234" width="3" height="22" fill="#ff0000"/>
<rect x="36" y="235" width="1" height="20" fill="#ff4500"/>
<rect x="40" y="200" width="1" height="39" fill="#ff0000"/>
<rect x="39" y="200" width="3" height="35" fill="#ff0000"/>
<rect x="40" y="201" width="1" height="33" fill="#ff4500"/>
<rect x="44" y="173" width="1" height="33" fill="#ff0000"/>
<rect x="43" y="184" width="3" height="16" fill="#ff0000"/>
<rect x="44" y="185" width="1" height="14" fill="#ff4500"/>
<rect x="48" y="184" width="1" height="14" fill="#22cc22"/>
<rect x="47" y="184" width="3" height="14" fill="#22cc22"/>
<rect x="48" y="185" width="1" height="12" fill="#32cd32"/>
<rect x="52" y="174" width="1" height="29" fill="#22cc22"/>
<rect x="51" y="196" width="3" height="6" fill="#22cc22"/>
<rect x="52" y="197" width="1" height="4" fill="#32cd32"/>
<rect x="56" y="178" width="1" height="43" fill="#ff0000"/>
<rect x="55" y="180" width="3" height="22" fill="#ff0000"/>
<rect x="56" y="181" width="1" height="20" fill="#ff4500"/>
<rect x="60" y="136" width="1" height="46" fill="#ff0000"/>
<rect x="59" y="160" width="3" height="21" fill="#ff0000"/>
<rect x="60" y="161" width="1" height="19" fill="#ff4500"/>
<rect x="64" y="138" width="1" height="44" fill="#22cc22"/>
<rect x="63" y="159" width="3" height="12" fill="#22cc22"/>
<rect x="64" y="160" width="1" height="10" fill="#32cd32"/>
<rect x="68" y="147" width="1" height="29" fill="#ff0000"/>
<rect x="67" y="155" width="3" height="16" fill="#ff0000"/>
<rect x="68" y="156" width="1" height="14" fill="#ff4500"/>
<rect x="72" y="153" width="1" height="28" fill="#22cc22"/>
<rect x="71" y="155" width="3" height="17" fill="#22cc22"/>
<rect x="72" y="156" width="1" height="15" fill="#32cd32"/>
<rect x="76" y="166" width="1" height="43" fill="#22cc22"/>
<rect x="75" y="167" width="3" height="30" fill="#22cc22"/>
<rect x="76" y="168" width="1" height="28" fill="#32cd32"/>
<rect x="80" y="174" width="1" height="26" fill="#ff0000"/>
<rect x="79" y="181" width="3" height="15" fill="#ff0000"/>
<rect x="80" y="182" width="1" height="13" fill="#ff4500"/>
<rect x="84" y="155" width="1" height="31" fill="#ff0000"/>
<rect x="83" y="174" width="3" height="9" fill="#ff0000"/>
<rect x="84" y="175" width="1" height="7" fill="#ff4500"/>
<rect x="88" y="158" width="1" height="27" fill="#ff0000"/>
<rect x="87" y="160" width="3" height="14" fill="#ff0000"/>
<rect x="88" y="161" width="1" height="12" fill="#ff4500"/>
<rect x="92" y="143" width="1" height="59" fill="#22cc22"/>
<rect x="91" y="160" width="3" height="32" fill="#22cc22"/>
<rect x="92" y="161" width="1" height="30" fill="#32cd32"/>
<rect x="96" y="179" width="1" height="17" fill="#ff0000"/>
<rect x="95" y="189" width="3" height="4" fill="#ff0000"/>
<rect x="96" y="190" width="1" height="2" fill="#ff4500"/>
<rect x="100" y="188" width="1" height="25" fill="#22cc22"/>
<rect x="99" y="191" width="3" height="9" fill="#22cc22"/>
<rect x="100" y="192" width="1" height="7" fill="#32cd32"/>
<rect x="104" y="188" width="1" height="18" fill="#ff0000"/>
<rect x="103" y="191" width="3" height="9" fill="#ff0000"/>
<rect x="104" y="192" width="1" height="7" fill="#ff4500"/>
<rect x="108" y="164" width="1" height="35" fill="#ff0000"/>
<rect x="107" y="172" width="3" height="20" fill="#ff0000"/>
<rect x="108" y="173" width="1" height="18" fill="#ff4500"/>
<rect x="112" y="154" width="1" height="24" fill="#ff0000"/>
<rect x="111" y="163" width="3" height="9" fill="#ff0000"/>
<rect x="112" y="164" width="1" height="7" fill="#ff4500"/>
<rect x="116" y="160" width="1" height="32" fill="#22cc22"/>
<rect x="115" y="163" width="3" height="22" fill="#22cc22"/>
<rect x="116" y="164" width="1" height="20" fill="#32cd32"/>
<rect x="120" y="180" width="1" height="9" fill="#22cc22"/>
<rect x="119" y="182" width="3" height="4" fill="#22cc22"/>
<rect x="120" y="183" width="1" height="2" fill="#32cd32"/>
<rect x="124" y="171" width="1" height="22" fill="#22cc22"/>
<rect x="123" y="189" width="3" height="3" fill="#22cc22"/>
<rect x="124" y="190" width="1" height="1" fill="#32cd32"/>
<rect x="128" y="168" width="1" height="41" fill="#ff0000"/>
<rect x="127" y="171" width="3" height="21" fill="#ff0000"/>
<rect x="128" y="172" width="1" height="19" fill="#ff4500"/>
<rect x="132" y="163" width="1" height="58" fill="#22cc22"/>
<rect x="131" y="171" width="3" height="28" fill="#22cc22"/>
<rect x="132" y="172" width="1" height="26" fill="#32cd32"/>
<rect x="136" y="193" width="1" height="52" fill="#22cc22"/>
<rect x="135" y="199" width="3" height="10" fill="#22cc22"/>
<rect x="136" y="200" width="1" height="8" fill="#32cd32"/>
<rect x="140" y="192" width="1" height="33" fill="#ff0000"/>
<rect x="139" y="206" width="3" height="3" fill="#ff0000"/>
<rect x="140" y="207" width="1" height="1" fill="#ff4500"/>
<rect x="144" y="205" width="1" height="22" fill="#22cc22"/>
<rect x="143" y="206" width="3" height="17" fill="#22cc22"/>
<rect x="144" y="207" width="1" height="15" fill="#32cd32"/>
<rect x="148" y="211" width="1" height="27" fill="#22cc22"/>
<rect x="147" y="228" width="3" height="5" fill="#22cc22"/>
<rect x="148" y="229" width="1" height="3" fill="#32cd32"/>
<rect x="152" y="211" width="1" height="47" fill="#22cc22"/>
<rect x="151" y="232" width="3" height="19" fill="#22cc22"/>
<rect x="152" y="233" width="1" height="17" fill="#32cd32"/>
<rect x="156" y="228" width="1" height="24" fill="#ff0000"/>
<rect x="155" y="234" width="3" height="17" fill="#ff0000"/>
<rect x="156" y="235" width="1" height="15" fill="#ff4500"/>
<rect x="160" y="218" width="1" height="29" fill="#22cc22"/>
<rect x="159" y="234" width="3" height="7" fill="#22cc22"/>
<rect x="160" y="235" width="1" height="5" fill="#32cd32"/>
<rect x="164" y="213" width="1" height="36" fill="#ff0000"/>
<rect x="163" y="213" width="3" height="29" fill="#ff0000"/>
<rect x="164" y="214" width="1" height="27" fill="#ff4500"/>
<rect x="168" y="206" width="1" height="11" fill="#ff0000"/>
<rect x="167" y="208" width="3" height="5" fill="#ff0000"/>
<rect x="168" y="209" width="1" height="3" fill="#ff4500"/>
<rect x="172" y="186" width="1" height="31" fill="#ff0000"/>
<rect x="171" y="189" width="3" height="18" fill="#ff0000"/>
<rect x="172" y="190" width="1" height="16" fill="#ff4500"/>
<rect x="176" y="176" width="1" height="20" fill="#ff0000"/>
<rect x="175" y="182" width="3" height="7" fill="#ff0000"/>
<rect x="176" y="183" width="1" height="5" fill="#ff4500"/>
<rect x="180" y="167" width="1" height="21" fill="#ff0000"/>
<rect x="179" y="178" width="3" height="4" fill="#ff0000"/>
<rect x="180" y="179" width="1" height="2" fill="#ff4500"/>
<rect x="184" y="159" width="1" height="29" fill="#ff0000"/>
<rect x="183" y="165" width="3" height="13" fill="#ff0000"/>
<rect x="184" y="166" width="1" height="11" fill="#ff4500"/>
<rect x="188" y="164" width="1" height="20" fill="#22cc22"/>
<rect x="187" y="165" width="3" height="5" fill="#22cc22"/>
<rect x="188" y="166" width="1" height="3" fill="#32cd32"/>
<rect x="192" y="163" width="1" height="10" fill="#ff0000"/>
<rect x="191" y="167" width="3" height="3" fill="#ff0000"/>
<rect x="192" y="168" width="1" height="1" fill="#ff4500"/>
<rect x="196" y="152" width="1" height="15" fill="#ff0000"/>
<rect x="195" y="154" width="3" height="12" fill="#ff0000"/>
<rect x="196" y="155" width="1" height="10" fill="#ff4500"/>
<rect x="200" y="144" width="1" height="29" fill="#22cc22"/>
<rect x="199" y="154" width="3" height="5" fill="#22cc22"/>
<rect x="200" y="155" width="1" height="3" fill="#32cd32"/>
<rect x="204" y="156" width="1" height="27" fill="#22cc22"/>
<rect x="203" y="158" width="3" height="20" fill="#22cc22"/>
<rect x="204" y="159" width="1" height="18" fill="#32cd32"/>
<rect x="208" y="151" width="1" height="32" fill="#ff0000"/>
<rect x="207" y="174" width="3" height="4" fill="#ff0000"/>
<rect x="208" y="175" width="1" height="2" fill="#ff4500"/>
<rect x="212" y="114" width="1" height="62" fill="#ff0000"/>
<rect x="211" y="116" width="3" height="59" fill="#ff0000"/>
<rect x="212" y="117" width="1" height="57" fill="#ff4500"/>
<rect x="216" y="108" width="1" height="10" fill="#ff0000"/>
<rect x="215" y="114" width="3" height="2" fill="#ff0000"/>
<rect x="220" y="104" width="1" height="16" fill="#ff0000"/>
<rect x="219" y="104" width="3" height="10" fill="#ff0000"/>
<rect x="220" y="105" width="1" height="8" fill="#ff4500"/>
<rect x="224" y="96" width="1" height="13" fill="#ff0000"/>
<rect x="223" y="98" width="3" height="4" fill="#ff0000"/>
<rect x="224" y="99" width="1" height="2" fill="#ff4500"/>
<rect x="228" y="77" width="1" height="25" fill="#ff0000"/>
<rect x="227" y="90" width="3" height="6" fill="#ff0000"/>
<rect x="228" y="91" width="1" height="4" fill="#ff4500"/>
<rect x="232" y="48" width="1" height="43" fill="#ff0000"/>
<rect x="231" y="72" width="3" height="19" fill="#ff0000"/>
<rect x="232" y="73" width="1" height="17" fill="#ff4500"/>
<rect x="236" y="69" width="1" height="109" fill="#22cc22"/>
<rect x="235" y="72" width="3" height="101" fill="#22cc22"/>
<rect x="236" y="73" width="1" height="99" fill="#32cd32"/>
<rect x="240" y="168" width="1" height="23" fill="#22cc22"/>
<rect x="239" y="172" width="3" height="18" fill="#22cc22"/>
<rect x="240" y="173" width="1" height="16" fill="#32cd32"/>
<rect x="244" y="152" width="1" height="37" fill="#ff0000"/>
<rect x="243" y="152" width="3" height="32" fill="#ff0000"/>
<rect x="244" y="153" width="1" height="30" fill="#ff4500"/>
<rect x="248" y="139" width="1" height="38" fill="#ff0000"/>
<rect x="247" y="140" width="3" height="14" fill="#ff0000"/>
<rect x="248" y="141" width="1" height="12" fill="#ff4500"/>
<rect x="252" y="128" width="1" height="33" fill="#22cc22"/>
<rect x="251" y="140" width="3" height="8" fill="#22cc22"/>
<rect x="252" y="141" width="1" height="6" fill="#32cd32"/>
<rect x="256" y="139" width="1" height="30" fill="#ff0000"/>
<rect x="255" y="146" width="3" height="2" fill="#ff0000"/>
<rect x="260" y="140" width="1" height="90" fill="#22cc22"/>
<rect x="259" y="147" width="3" height="65" fill="#22cc22"/>
<rect x="260" y="148" width="1" height="63" fill="#32cd32"/>
<rect x="264" y="198" width="1" height="19" fill="#ff0000"/>
<rect x="263" y="198" width="3" height="13" fill="#ff0000"/>
<rect x="264" y="199" width="1" height="11" fill="#ff4500"/>
<rect x="268" y="183" width="1" height="41" fill="#22cc22"/>
<rect x="267" y="195" width="3" height="13" fill="#22cc22"/>
<rect x="268" y="196" width="1" height="11" fill="#32cd32"/>
<rect x="272" y="184" width="1" height="46" fill="#ff0000"/>
<rect x="271" y="194" width="3" height="16" fill="#ff0000"/>
<rect x="272" y="195" width="1" height="14" fill="#ff4500"/>
<rect x="276" y="172" width="1" height="36" fill="#ff0000"/>
<rect x="275" y="187" width="3" height="7" fill="#ff0000"/>
<rect x="276" y="188" width="1" height="5" fill="#ff4500"/>
<rect x="280" y="153" width="1" height="39" fill="#ff0000"/>
<rect x="279" y="161" width="3" height="27" fill="#ff0000"/>
<rect x="280" y="162" width="1" height="25" fill="#ff4500"/>
<rect x="284" y="146" width="1" height="37" fill="#22cc22"/>
<rect x="283" y="162" width="3" height="9" fill="#22cc22"/>
<rect x="284" y="163" width="1" height="7" fill="#32cd32"/>
<rect x="288" y="158" width="1" height="17" fill="#ff0000"/>
<rect x="287" y="166" width="3" height="5" fill="#ff0000"/>
<rect x="288" y="167" width="1" height="3" fill="#ff4500"/>
<rect x="292" y="158" width="1" height="33" fill="#22cc22"/>
<rect x="291" y="169" width="3" height="13" fill="#22cc22"/>
<rect x="292" y="170" width="1" height="11" fill="#32cd32"/>
<rect x="296" y="165" width="1" height="24" fill="#ff0000"/>
<rect x="295" y="171" width="3" height="10" fill="#ff0000"/>
<rect x="296" y="172" width="1" height="8" fill="#ff4500"/>
<rect x="300" y="166" width="1" height="26" fill="#22cc22"/>
<rect x="299" y="171" width="3" height="19" fill="#22cc22"/>
<rect x="300" y="172" width="1" height="17" fill="#32cd32"/>
<rect x="304" y="123" width="1" height="72" fill="#ff0000"/>
<rect x="303" y="149" width="3" height="41" fill="#ff0000"/>
<rect x="304" y="150" width="1" height="39" fill="#ff4500"/>
<rect x="308" y="144" width="1" height="41" fill="#22cc22"/>
<rect x="307" y="148" width="3" height="25" fill="#22cc22"/>
<rect x="308" y="149" width="1" height="23" fill="#32cd32"/>
<rect x="312" y="166" width="1" height="15" fill="#ff0000"/>
<rect x="311" y="170" width="3" height="3" fill="#ff0000"/>
<rect x="312" y="171" width="1" height="1" fill="#ff4500"/>
<rect x="316" y="168" width="1" height="24" fill="#ff0000"/>
<rect x="315" y="170" width="3" height="14" fill="#ff0000"/>
<rect x="316" y="171" width="1" height="12" fill="#ff4500"/>
<rect x="320" y="166" width="1" height="48" fill="#22cc22"/>
<rect x="319" y="170" width="3" height="32" fill="#22cc22"/>
<rect x="320" y="171" width="1" height="30" fill="#32cd32"/>
<rect x="324" y="202" width="1" height="47" fill="#22cc22"/>
<rect x="323" y="202" width="3" height="28" fill="#22cc22"/>
<rect x="324" y="203" width="1" height="26" fill="#32cd32"/>
<rect x="328" y="227" width="1" height="32" fill="#22cc22"/>
<rect x="327" y="230" width="3" height="26" fill="#22cc22"/>
<rect x="328" y="231" width="1" height="24" fill="#32cd32"/>
<rect x="332" y="222" width="1" height="34" fill="#ff0000"/>
<rect x="331" y="227" width="3" height="28" fill="#ff0000"/>
<rect x="332" y="228" width="1" height="26" fill="#ff4500"/>
<rect x="336" y="224" width="1" height="9" fill="#22cc22"/>
<rect x="335" y="227" width="3" height="4" fill="#22cc22"/>
<rect x="336" y="228" width="1" height="2" fill="#32cd32"/>
<rect x="340" y="214" width="1" height="19" fill="#ff0000"/>
<rect x="339" y="220" width="3" height="3" fill="#ff0000"/>
<rect x="340" y="221" width="1" height="1" fill="#ff4500"/>
<rect x="344" y="210" width="1" height="33" fill="#22cc22"/>
<rect x="343" y="220" width="3" height="18" fill="#22cc22"/>
<rect x="344" y="221" width="1" height="16" fill="#32cd32"/>
<rect x="348" y="223" width="1" height="25" fill="#ff0000"/>
<rect x="347" y="235" width="3" height="3" fill="#ff0000"/>
<rect x="348" y="236" width="1" height="1" fill="#ff4500"/>
<rect x="352" y="231" width="1" height="41" fill="#22cc22"/>
<rect x="351" y="235" width="3" height="5" fill="#22cc22"/>
<rect x="352" y="236" width="1" height="3" fill="#32cd32"/>
<rect x="356" y="231" width="1" height="9" fill="#ff0000"/>
<rect x="355" y="233" width="3" height="6" fill="#ff0000"/>
<rect x="356" y="234" width="1" height="4" fill="#ff4500"/>
<rect x="360" y="238" width="1" height="5" fill="#22cc22"/>
<rect x="359" y="240" width="3" height="1" fill="#22cc22"/>
<rect x="364" y="212" width="1" height="30" fill="#ff0000"/>
<rect x="363" y="214" width="3" height="21" fill="#ff0000"/>
<rect x="364" y="215" width="1" height="19" fill="#ff4500"/>
<rect x="368" y="211" width="1" height="28" fill="#ff0000"/>
<rect x="367" y="212" width="3" height="2" fill="#ff0000"/>
<rect x="372" y="204" width="1" height="30" fill="#22cc22"/>
<rect x="371" y="212" width="3" height="17" fill="#22cc22"/>
<rect x="372" y="213" width="1" height="15" fill="#32cd32"/>
<rect x="376" y="217" width="1" height="24" fill="#ff0000"/>
<rect x="375" y="222" width="3" height="7" fill="#ff0000"/>
<rect x="376" y="223" width="1" height="5" fill="#ff4500"/>
<rect x="380" y="212" width="1" height="35" fill="#22cc22"/>
<rect x="379" y="222" width="3" height="5" fill="#22cc22"/>
<rect x="380" y="223" width="1" height="3" fill="#32cd32"/>
<rect x="384" y="225" width="1" height="5" fill="#22cc22"/>
<rect x="383" y="226" width="3" height="3" fill="#22cc22"/>
<rect x="384" y="227" width="1" height="1" fill="#32cd32"/>
<rect x="388" y="227" width="1" height="17" fill="#22cc22"/>
<rect x="387" y="230" width="3" height="1" fill="#22cc22"/>
<rect x="392" y="226" width="1" height="22" fill="#ff0000"/>
<rect x="391" y="227" width="3" height="4" fill="#ff0000"/>
<rect x="392" y="228" width="1" height="2" fill="#ff4500"/>
<rect x="396" y="178" width="1" height="50" fill="#ff0000"/>
<rect x="395" y="180" width="3" height="47" fill="#ff0000"/>
<rect x="396" y="181" width="1" height="45" fill="#ff4500"/>
<rect x="400" y="164" width="1" height="27" fill="#ff0000"/>
<rect x="399" y="172" width="3" height="8" fill="#ff0000"/>
<rect x="400" y="173" width="1" height="6" fill="#ff4500"/>
<rect x="404" y="165" width="1" height="18" fill="#22cc22"/>
<rect x="403" y="172" width="3" height="5" fill="#22cc22"/>
<rect x="404" y="173" width="1" height="3" fill="#32cd32"/>
<rect x="408" y="176" width="1" height="4" fill="#22cc22"/>
<rect x="407" y="177" width="3" height="2" fill="#22cc22"/>
<rect x="412" y="153" width="1" height="38" fill="#ff0000"/>
<rect x="411" y="166" width="3" height="13" fill="#ff0000"/>
<rect x="412" y="167" width="1" height="11" fill="#ff4500"/>
<rect x="416" y="138" width="1" height="45" fill="#22cc22"/>
<rect x="415" y="166" width="3" height="9" fill="#22cc22"/>
<rect x="416" y="167" width="1" height="7" fill="#32cd32"/>
<rect x="420" y="164" width="1" height="30" fill="#ff0000"/>
<rect x="419" y="167" width="3" height="8" fill="#ff0000"/>
<rect x="420" y="168" width="1" height="6" fill="#ff4500"/>
<rect x="424" y="163" width="1" height="27" fill="#22cc22"/>
<rect x="423" y="167" width="3" height="15" fill="#22cc22"/>
<rect x="424" y="168" width="1" height="13" fill="#32cd32"/>
<rect x="428" y="172" width="1" height="26" fill="#ff0000"/>
<rect x="427" y="175" width="3" height="9" fill="#ff0000"/>
<rect x="428" y="176" width="1" height="7" fill="#ff4500"/>
<rect x="432" y="166" width="1" height="12" fill="#ff0000"/>
<rect x="431" y="166" width="3" height="10" fill="#ff0000"/>
<rect x="432" y="167" width="1" height="8" fill="#ff4500"/>
<rect x="436" y="139" width="1" height="35" fill="#ff0000"/>
<rect x="435" y="145" width="3" height="27" fill="#ff0000"/>
<rect x="436" y="146" width="1" height="25" fill="#ff4500"/>
<rect x="440" y="143" width="1" height="21" fill="#22cc22"/>
<rect x="439" y="145" width="3" height="13" fill="#22cc22"/>
<rect x="440" y="146" width="1" height="11" fill="#32cd32"/>
<rect x="444" y="157" width="1" height="24" fill="#22cc22"/>
<rect x="443" y="158" width="3" height="4" fill="#22cc22"/>
<rect x="444" y="159" width="1" height="2" fill="#32cd32"/>
<rect x="448" y="137" width="1" height="33" fill="#22cc22"/>
<rect x="447" y="161" width="3" height="5" fill="#22cc22"/>
<rect x="448" y="162" width="1" height="3" fill="#32cd32"/>
<rect x="452" y="153" width="1" height="39" fill="#22cc22"/>
<rect x="451" y="166" width="3" height="21" fill="#22cc22"/>
<rect x="452" y="167" width="1" height="19" fill="#32cd32"/>
<rect x="456" y="184" width="1" height="8" fill="#22cc22"/>
<rect x="455" y="185" width="3" height="7" fill="#22cc22"/>
<rect x="456" y="186" width="1" height="5" fill="#32cd32"/>
<rect x="460" y="162" width="1" height="28" fill="#ff0000"/>
<rect x="459" y="166" width="3" height="19" fill="#ff0000"/>
<rect x="460" y="167" width="1" height="17" fill="#ff4500"/>
<rect x="464" y="162" width="1" height="44" fill="#22cc22"/>
<rect x="463" y="166" width="3" height="34" fill="#22cc22"/>
<rect x="464" y="167" width="1" height="32" fill="#32cd32"/>
<rect x="468" y="167" width="1" height="33" fill="#ff0000"/>
<rect x="467" y="170" width="3" height="30" fill="#ff0000"/>
<rect x="468" y="171" width="1" height="28" fill="#ff4500"/>
<rect x="472" y="158" width="1" height="36" fill="#ff0000"/>
<rect x="471" y="162" width="3" height="9" fill="#ff0000"/>
<rect x="472" y="163" width="1" height="7" fill="#ff4500"/>
<rect x="476" y="117" width="1" height="47" fill="#ff0000"/>
<rect x="475" y="117" width="3" height="45" fill="#ff0000"/>
<rect x="476" y="118" width="1" height="43" fill="#ff4500"/>
<rect x="480" y="117" width="1" height="12" fill="#22cc22"/>
<rect x="479" y="117" width="3" height="8" fill="#22cc22"/>
<rect x="480" y="118" width="1" height="6" fill="#32cd32"/>
<rect x="484" y="103" width="1" height="26" fill="#ff0000"/>
<rect x="483" y="111" width="3" height="11" fill="#ff0000"/>
<rect x="484" y="112" width="1" height="9" fill="#ff4500"/>
<rect x="488" y="110" width="1" height="27" fill="#22cc22"/>
<rect x="487" y="110" width="3" height="16" fill="#22cc22"/>
<rect x="488" y="111" width="1" height="14" fill="#32cd32"/>
<rect x="492" y="123" width="1" height="56" fill="#22cc22"/>
<rect x="491" y="126" width="3" height="52" fill="#22cc22"/>
<rect x="492" y="127" width="1" height="50" fill="#32cd32"/>
<rect x="496" y="172" width="1" height="28" fill="#22cc22"/>
<rect x="495" y="177" width="3" height="7" fill="#22cc22"/>
<rect x="496" y="178" width="1" height="5" fill="#32cd32"/>
<rect x="500" y="155" width="1" height="36" fill="#ff0000"/>
<rect x="499" y="157" width="3" height="26" fill="#ff0000"/>
<rect x="500" y="158" width="1" height="24" fill="#ff4500"/>
<rect x="504" y="153" width="1" height="5" fill="#ff0000"/>
<rect x="503" y="153" width="3" height="5" fill="#ff0000"/>
<rect x="504" y="154" width="1" height="3" fill="#ff4500"/>
<rect x="508" y="154" width="1" height="25" fill="#22cc22"/>
<rect x="507" y="156" width="3" height="6" fill="#22cc22"/>
<rect x="508" y="157" width="1" height="4" fill="#32cd32"/>
<rect x="512" y="139" width="1" height="27" fill="#ff0000"/>
<rect x="511" y="155" width="3" height="7" fill="#ff0000"/>
<rect x="512" y="156" width="1" height="5" fill="#ff4500"/>
<rect x="516" y="143" width="1" height="34" fill="#22cc22"/>
<rect x="515" y="155" width="3" height="13" fill="#22cc22"/>
<rect x="516" y="156" width="1" height="11" fill="#32cd32"/>
<rect x="520" y="155" width="1" height="34" fill="#ff0000"/>
<rect x="519" y="156" width="3" height="12" fill="#ff0000"/>
<rect x="520" y="157" width="1" height="10" fill="#ff4500"/>
<rect x="524" y="155" width="1" height="25" fill="#22cc22"/>
<rect x="523" y="156" width="3" height="23" fill="#22cc22"/>
<rect x="524" y="157" width="1" height="21" fill="#32cd32"/>
<rect x="528" y="176" width="1" height="9" fill="#ff0000"/>
<rect x="527" y="178" width="3" height="2" fill="#ff0000"/>
<rect x="532" y="168" width="1" height="23" fill="#ff0000"/>
<rect x="531" y="174" width="3" height="9" fill="#ff0000"/>
<rect x="532" y="175" width="1" height="7" fill="#ff4500"/>
<rect x="536" y="158" width="1" height="19" fill="#ff0000"/>
<rect x="535" y="174" width="3" height="1" fill="#ff0000"/>
<rect x="540" y="148" width="1" height="30" fill="#ff0000"/>
<rect x="539" y="173" width="3" height="1" fill="#ff0000"/>
<rect x="544" y="166" width="1" height="17" fill="#22cc22"/>
<rect x="543" y="173" width="3" height="4" fill="#22cc22"/>
<rect x="544" y="174" width="1" height="2" fill="#32cd32"/>
<rect x="548" y="171" width="1" height="34" fill="#22cc22"/>
<rect x="547" y="176" width="3" height="16" fill="#22cc22"/>
<rect x="548" y="177" width="1" height="14" fill="#32cd32"/>
<rect x="552" y="186" width="1" height="6" fill="#ff0000"/>
<rect x="551" y="189" width="3" height="3" fill="#ff0000"/>
<rect x="552" y="190" width="1" height="1" fill="#ff4500"/>
<rect x="556" y="174" width="1" height="20" fill="#ff0000"/>
<rect x="555" y="174" width="3" height="15" fill="#ff0000"/>
<rect x="556" y="175" width="1" height="13" fill="#ff4500"/>
<rect x="560" y="160" width="1" height="19" fill="#ff0000"/>
<rect x="559" y="163" width="3" height="11" fill="#ff0000"/>
<rect x="560" y="164" width="1" height="9" fill="#ff4500"/>
<rect x="564" y="159" width="1" height="28" fill="#22cc22"/>
<rect x="563" y="163" width="3" height="7" fill="#22cc22"/>
<rect x="564" y="164" width="1" height="5" fill="#32cd32"/>
<rect x="568" y="167" width="1" height="51" fill="#22cc22"/>
<rect x="567" y="169" width="3" height="48" fill="#22cc22"/>
<rect x="568" y="170" width="1" height="46" fill="#32cd32"/>
<rect x="572" y="172" width="1" height="48" fill="#ff0000"/>
<rect x="571" y="173" width="3" height="44" fill="#ff0000"/>
<rect x="572" y="174" width="1" height="42" fill="#ff4500"/>
<rect x="576" y="172" width="1" height="4" fill="#ff0000"/>
<rect x="575" y="172" width="3" height="2" fill="#ff0000"/>
<rect x="580" y="162" width="1" height="16" fill="#ff0000"/>
<rect x="579" y="162" width="3" height="13" fill="#ff0000"/>
<rect x="580" y="163" width="1" height="11" fill="#ff4500"/>
<rect x="584" y="162" width="1" height="16" fill="#22cc22"/>
<rect x="583" y="163" width="3" height="11" fill="#22cc22"/>
<rect x="584" y="164" width="1" height="9" fill="#32cd32"/>
<rect x="588" y="164" width="1" height="17" fill="#22cc22"/>
<rect x="587" y="174" width="3" height="5" fill="#22cc22"/>
<rect x="588" y="175" width="1" height="3" fill="#32cd32"/>
<rect x="592" y="163" width="1" height="22" fill="#ff0000"/>
<rect x="591" y="168" width="3" height="11" fill="#ff0000"/>
<rect x="592" y="169" width="1" height="9" fill="#ff4500"/>
<rect x="596" y="157" width="1" height="42" fill="#22cc22"/>
<rect x="595" y="168" width="3" height="28" fill="#22cc22"/>
<rect x="596" y="169" width="1" height="26" fill="#32cd32"/>
<rect x="600" y="192" width="1" height="8" fill="#ff0000"/>
<rect x="599" y="192" width="3" height="4" fill="#ff0000"/>
<rect x="600" y="193" width="1" height="2" fill="#ff4500"/>
<rect x="604" y="181" width="1" height="16" fill="#ff0000"/>
<rect x="603" y="185" width="3" height="5" fill="#ff0000"/>
<rect x="604" y="186" width="1" height="3" fill="#ff4500"/>
<rect x="608" y="185" width="1" height="21" fill="#22cc22"/>
<rect x="607" y="185" width="3" height="21" fill="#22cc22"/>
<rect x="608" y="186" width="1" height="19" fill="#32cd32"/>
<rect x="612" y="186" width="1" height="19" fill="#ff0000"/>
<rect x="611" y="188" width="3" height="17" fill="#ff0000"/>
<rect x="612" y="189" width="1" height="15" fill="#ff4500"/>
<rect x="616" y="185" width="1" height="78" fill="#22cc22"/>
<rect x="615" y="188" width="3" height="74" fill="#22cc22"/>
<rect x="616" y="189" width="1" height="72" fill="#32cd32"/>
<rect x="620" y="259" width="1" height="39" fill="#22cc22"/>
<rect x="619" y="262" width="3" height="27" fill="#22cc22"/>
<rect x="620" y="263" width="1" height="25" fill="#32cd32"/>
<rect x="624" y="282" width="1" height="10" fill="#ff0000"/>
<rect x="623" y="288" width="3" height="1" fill="#ff0000"/>
<rect x="628" y="270" width="1" height="29" fill="#ff0000"/>
<rect x="627" y="275" width="3" height="13" fill="#ff0000"/>
<rect x="628" y="276" width="1" height="11" fill="#ff4500"/>
<rect x="632" y="266" width="1" height="25" fill="#22cc22"/>
<rect x="631" y="274" width="3" height="1" fill="#22cc22"/>
<rect x="636" y="241" width="1" height="34" fill="#ff0000"/>
<rect x="635" y="246" width="3" height="29" fill="#ff0000"/>
<rect x="636" y="247" width="1" height="27" fill="#ff4500"/>
<rect x="640" y="244" width="1" height="13" fill="#22cc22"/>
<rect x="639" y="246" width="3" height="8" fill="#22cc22"/>
<rect x="640" y="247" width="1" height="6" fill="#32cd32"/>
<rect x="644" y="233" width="1" height="19" fill="#ff0000"/>
<rect x="643" y="244" width="3" height="8" fill="#ff0000"/>
<rect x="644" y="245" width="1" height="6" fill="#ff4500"/>
<rect x="648" y="243" width="1" height="7" fill="#22cc22"/>
<rect x="647" y="244" width="3" height="4" fill="#22cc22"/>
<rect x="648" y="245" width="1" height="2" fill="#32cd32"/>
<rect x="652" y="240" width="1" height="22" fill="#22cc22"/>
<rect x="651" y="246" width="3" height="8" fill="#22cc22"/>
<rect x="652" y="247" width="1" height="6" fill="#32cd32"/>
<rect x="656" y="253" width="1" height="32" fill="#22cc22"/>
<rect x="655" y="254" width="3" height="26" fill="#22cc22"/>
<rect x="656" y="255" width="1" height="24" fill="#32cd32"/>
<rect x="660" y="275" width="1" height="16" fill="#22cc22"/>
<rect x="659" y="280" width="3" height="11" fill="#22cc22"/>
<rect x="660" y="281" width="1" height="9" fill="#32cd32"/>
<rect x="664" y="284" width="1" height="22" fill="#22cc22"/>
<rect x="663" y="290" width="3" height="12" fill="#22cc22"/>
<rect x="664" y="291" width="1" height="10" fill="#32cd32"/>
<rect x="668" y="287" width="1" height="28" fill="#ff0000"/>
<rect x="667" y="289" width="3" height="13" fill="#ff0000"/>
<rect x="668" y="290" width="1" height="11" fill="#ff4500"/>
<rect x="672" y="272" width="1" height="20" fill="#ff0000"/>
<rect x="671" y="274" width="3" height="15" fill="#ff0000"/>
<rect x="672" y="275" width="1" height="13" fill="#ff4500"/>
<rect x="676" y="271" width="1" height="13" fill="#ff0000"/>
<rect x="675" y="272" width="3" height="6" fill="#ff0000"/>
<rect x="676" y="273" width="1" height="4" fill="#ff4500"/>
<rect x="680" y="241" width="1" height="54" fill="#22cc22"/>
<rect x="679" y="273" width="3" height="17" fill="#22cc22"/>
<rect x="680" y="274" width="1" height="15" fill="#32cd32"/>
<rect x="684" y="272" width="1" height="34" fill="#22cc22"/>
<rect x="683" y="289" width="3" height="7" fill="#22cc22"/>
<rect x="684" y="290" width="1" height="5" fill="#32cd32"/>
<rect x="688" y="284" width="1" height="44" fill="#22cc22"/>
<rect x="687" y="295" width="3" height="23" fill="#22cc22"/>
<rect x="688" y="296" width="1" height="21" fill="#32cd32"/>
<rect x="692" y="293" width="1" height="38" fill="#ff0000"/>
<rect x="691" y="298" width="3" height="21" fill="#ff0000"/>
<rect x="692" y="299" width="1" height="19" fill="#ff4500"/>
<rect x="696" y="292" width="1" height="7" fill="#ff0000"/>
<rect x="695" y="292" width="3" height="7" fill="#ff0000"/>
<rect x="696" y="293" width="1" height="5" fill="#ff4500"/>
<rect x="700" y="289" width="1" height="24" fill="#ff0000"/>
<rect x="699" y="292" width="3" height="2" fill="#ff0000"/>
<rect x="704" y="286" width="1" height="37" fill="#22cc22"/>
<rect x="703" y="293" width="3" height="9" fill="#22cc22"/>
<rect x="704" y="294" width="1" height="7" fill="#32cd32"/>
<rect x="708" y="294" width="1" height="27" fill="#22cc22"/>
<rect x="707" y="301" width="3" height="3" fill="#22cc22"/>
<rect x="708" y="302" width="1" height="1" fill="#32cd32"/>
<rect x="712" y="294" width="1" height="26" fill="#22cc22"/>
<rect x="711" y="303" width="3" height="16" fill="#22cc22"/>
<rect x="712" y="304" width="1" height="14" fill="#32cd32"/>
<rect x="716" y="315" width="1" height="21" fill="#22cc22"/>
<rect x="715" y="318" width="3" height="14" fill="#22cc22"/>
<rect x="716" y="319" width="1" height="12" fill="#32cd32"/>
<rect x="720" y="328" width="1" height="8" fill="#22cc22"/>
<rect x="719" y="330" width="3" height="5" fill="#22cc22"/>
<rect x="720" y="331" width="1" height="3" fill="#32cd32"/>
<rect x="724" y="337" width="1" height="33" fill="#22cc22"/>
<rect x="723" y="338" width="3" height="24" fill="#22cc22"/>
<rect x="724" y="339" width="1" height="22" fill="#32cd32"/>
<rect x="728" y="355" width="1" height="28" fill="#22cc22"/>
<rect x="727" y="361" width="3" height="10" fill="#22cc22"/>
<rect x="728" y="362" width="1" height="8" fill="#32cd32"/>
<rect x="732" y="354" width="1" height="34" fill="#ff0000"/>
<rect x="731" y="356" width="3" height="15" fill="#ff0000"/>
<rect x="732" y="357" width="1" height="13" fill="#ff4500"/>
<rect x="736" y="336" width="1" height="27" fill="#ff0000"/>
<rect x="735" y="352" width="3" height="5" fill="#ff0000"/>
<rect x="736" y="353" width="1" height="3" fill="#ff4500"/>
<rect x="740" y="340" width="1" height="16" fill="#22cc22"/>
<rect x="739" y="352" width="3" height="1" fill="#22cc22"/>
<rect x="744" y="348" width="1" height="5" fill="#ff0000"/>
<rect x="743" y="351" width="3" height="1" fill="#ff0000"/>
<rect x="748" y="339" width="1" height="29" fill="#ff0000"/>
<rect x="747" y="341" width="3" height="9" fill="#ff0000"/>
<rect x="748" y="342" width="1" height="7" fill="#ff4500"/>
<rect x="752" y="340" width="1" height="25" fill="#22cc22"/>
<rect x="751" y="342" width="3" height="8" fill="#22cc22"/>
<rect x="752" y="343" width="1" height="6" fill="#32cd32"/>
<rect x="756" y="348" width="1" height="24" fill="#22cc22"/>
<rect x="755" y="350" width="3" height="11" fill="#22cc22"/>
<rect x="756" y="351" width="1" height="9" fill="#32cd32"/>
<rect x="760" y="329" width="1" height="46" fill="#ff0000"/>
<rect x="759" y="335" width="3" height="25" fill="#ff0000"/>
<rect x="760" y="336" width="1" height="23" fill="#ff4500"/>
<rect x="764" y="332" width="1" height="29" fill="#22cc22"/>
<rect x="763" y="334" width="3" height="25" fill="#22cc22"/>
<rect x="764" y="335" width="1" height="23" fill="#32cd32"/>
<rect x="768" y="357" width="1" height="11" fill="#22cc22"/>
<rect x="767" y="358" width="3" height="9" fill="#22cc22"/>
<rect x="768" y="359" width="1" height="7" fill="#32cd32"/>
<rect x="772" y="343" width="1" height="26" fill="#ff0000"/>
<rect x="771" y="352" width="3" height="9" fill="#ff0000"/>
<rect x="772" y="353" width="1" height="7" fill="#ff4500"/>
<rect x="776" y="332" width="1" height="24" fill="#ff0000"/>
<rect x="775" y="342" width="3" height="11" fill="#ff0000"/>
<rect x="776" y="343" width="1" height="9" fill="#ff4500"/>
<rect x="780" y="322" width="1" height="28" fill="#22cc22"/>
<rect x="779" y="342" width="3" height="4" fill="#22cc22"/>
<rect x="780" y="343" width="1" height="2" fill="#32cd32"/>
<rect x="784" y="327" width="1" height="20" fill="#ff0000"/>
<rect x="783" y="331" width="3" height="15" fill="#ff0000"/>
<rect x="784" y="332" width="1" height="13" fill="#ff4500"/>
<rect x="788" y="331" width="1" height="30" fill="#22cc22"/>
<rect x="787" y="331" width="3" height="25" fill="#22cc22"/>
<rect x="788" y="332" width="1" height="23" fill="#32cd32"/>
<rect x="792" y="354" width="1" height="5" fill="#22cc22"/>
<rect x="791" y="355" width="3" height="3" fill="#22cc22"/>
<rect x="792" y="356" width="1" height="1" fill="#32cd32"/>
<rect x="796" y="352" width="1" height="18" fill="#ff0000"/>
<rect x="795" y="362" width="3" height="2" fill="#ff0000"/>
<rect x="800" y="357" width="1" height="18" fill="#ff0000"/>
<rect x="799" y="361" width="3" height="3" fill="#ff0000"/>
<rect x="800" y="362" width="1" height="1" fill="#ff4500"/>
<rect x="804" y="341" width="1" height="31" fill="#ff0000"/>
<rect x="803" y="347" width="3" height="14" fill="#ff0000"/>
<rect x="804" y="348" width="1" height="12" fill="#ff4500"/>
<rect x="808" y="340" width="1" height="26" fill="#22cc22"/>
<rect x="807" y="348" width="3" height="14" fill="#22cc22"/>
<rect x="808" y="349" width="1" height="12" fill="#32cd32"/>
<rect x="812" y="344" width="1" height="24" fill="#ff0000"/>
<rect x="811" y="346" width="3" height="15" fill="#ff0000"/>
<rect x="812" y="347" width="1" height="13" fill="#ff4500"/>
<rect x="816" y="344" width="1" height="6" fill="#22cc22"/>
<rect x="815" y="346" width="3" height="1" fill="#22cc22"/>
<rect x="820" y="348" width="1" height="26" fill="#22cc22"/>
<rect x="819" y="349" width="3" height="16" fill="#22cc22"/>
<rect x="820" y="350" width="1" height="14" fill="#32cd32"/>
<rect x="824" y="363" width="1" height="42" fill="#22cc22"/>
<rect x="823" y="364" width="3" height="41" fill="#22cc22"/>
<rect x="824" y="365" width="1" height="39" fill="#32cd32"/>
<rect x="828" y="396" width="1" height="20" fill="#22cc22"/>
<rect x="827" y="404" width="3" height="10" fill="#22cc22"/>
<rect x="828" y="405" width="1" height="8" fill="#32cd32"/>
<rect x="832" y="399" width="1" height="57" fill="#22cc22"/>
<rect x="831" y="413" width="3" height="32" fill="#22cc22"/>
<rect x="832" y="414" width="1" height="30" fill="#32cd32"/>
<rect x="836" y="443" width="1" height="32" fill="#22cc22"/>
<rect x="835" y="444" width="3" height="18" fill="#22cc22"/>
<rect x="836" y="445" width="1" height="16" fill="#32cd32"/>
<rect x="840" y="456" width="1" height="7" fill="#ff0000"/>
<rect x="839" y="458" width="3" height="4" fill="#ff0000"/>
<rect x="840" y="459" width="1" height="2" fill="#ff4500"/>
<rect x="844" y="425" width="1" height="35" fill="#ff0000"/>
<rect x="843" y="426" width="3" height="33" fill="#ff0000"/>
<rect x="844" y="427" width="1" height="31" fill="#ff4500"/>
<rect x="848" y="396" width="1" height="34" fill="#ff0000"/>
<rect x="847" y="404" width="3" height="22" fill="#ff0000"/>
<rect x="848" y="405" width="1" height="20" fill="#ff4500"/>
<rect x="852" y="397" width="1" height="16" fill="#ff0000"/>
<rect x="851" y="399" width="3" height="7" fill="#ff0000"/>
<rect x="852" y="400" width="1" height="5" fill="#ff4500"/>
<rect x="856" y="391" width="1" height="20" fill="#22cc22"/>
<rect x="855" y="398" width="3" height="8" fill="#22cc22"/>
<rect x="856" y="399" width="1" height="6" fill="#32cd32"/>
<rect x="860" y="378" width="1" height="42" fill="#ff0000"/>
<rect x="859" y="378" width="3" height="29" fill="#ff0000"/>
<rect x="860" y="379" width="1" height="27" fill="#ff4500"/>
<rect x="864" y="374" width="1" height="6" fill="#ff0000"/>
<rect x="863" y="375" width="3" height="4" fill="#ff0000"/>
<rect x="864" y="376" width="1" height="2" fill="#ff4500"/>
<rect x="868" y="373" width="1" height="17" fill="#22cc22"/>
<rect x="867" y="376" width="3" height="10" fill="#22cc22"/>
<rect x="868" y="377" width="1" height="8" fill="#32cd32"/>
<rect x="872" y="362" width="1" height="27" fill="#ff0000"/>
<rect x="871" y="379" width="3" height="7" fill="#ff0000"/>
<rect x="872" y="380" width="1" height="5" fill="#ff4500"/>
<rect x="876" y="347" width="1" height="33" fill="#ff0000"/>
<rect x="875" y="350" width="3" height="30" fill="#ff0000"/>
<rect x="876" y="351" width="1" height="28" fill="#ff4500"/>
<rect x="880" y="330" width="1" height="27" fill="#ff0000"/>
<rect x="879" y="334" width="3" height="16" fill="#ff0000"/>
<rect x="880" y="335" width="1" height="14" fill="#ff4500"/>
<rect x="884" y="298" width="1" height="40" fill="#ff0000"/>
<rect x="883" y="315" width="3" height="21" fill="#ff0000"/>
<rect x="884" y="316" width="1" height="19" fill="#ff4500"/>
<rect x="888" y="304" width="1" height="13" fill="#ff0000"/>
<rect x="887" y="307" width="3" height="9" fill="#ff0000"/>
<rect x="888" y="308" width="1" height="7" fill="#ff4500"/>
<rect x="892" y="310" width="1" height="13" fill="#22cc22"/>
<rect x="891" y="311" width="3" height="8" fill="#22cc22"/>
<rect x="892" y="312" width="1" height="6" fill="#32cd32"/>
<rect x="896" y="303" width="1" height="45" fill="#22cc22"/>
<rect x="895" y="318" width="3" height="20" fill="#22cc22"/>
<rect x="896" y="319" width="1" height="18" fill="#32cd32"/>
<rect x="900" y="334" width="1" height="26" fill="#22cc22"/>
<rect x="899" y="338" width="3" height="13" fill="#22cc22"/>
<rect x="900" y="339" width="1" height="11" fill="#32cd32"/>
<rect x="904" y="337" width="1" height="24" fill="#ff0000"/>
<rect x="903" y="344" width="3" height="7" fill="#ff0000"/>
<rect x="904" y="345" width="1" height="5" fill="#ff4500"/>
<rect x="908" y="330" width="1" height="24" fill="#22cc22"/>
<rect x="907" y="344" width="3" height="8" fill="#22cc22"/>
<rect x="908" y="345" width="1" height="6" fill="#32cd32"/>
<rect x="912" y="348" width="1" height="6" fill="#22cc22"/>
<rect x="911" y="350" width="3" height="3" fill="#22cc22"/>
<rect x="912" y="351" width="1" height="1" fill="#32cd32"/>
<rect x="916" y="346" width="1" height="20" fill="#ff0000"/>
<rect x="915" y="349" width="3" height="2" fill="#ff0000"/>
<rect x="920" y="347" width="1" height="24" fill="#22cc22"/>
<rect x="919" y="349" width="3" height="18" fill="#22cc22"/>
<rect x="920" y="350" width="1" height="16" fill="#32cd32"/>
<rect x="924" y="363" width="1" height="14" fill="#22cc22"/>
<rect x="923" y="366" width="3" height="9" fill="#22cc22"/>
<rect x="924" y="367" width="1" height="7" fill="#32cd32"/>
</g>
<rect x="1167" y="53" width="2" height="1" fill="#000"/>
<text x="1172" y="57" font-size="10" fill="#000" textLength="33.0" lengthAdjust="spacingAndGlyphs">0.79960</text>
<rect x="1167" y="86" width="2" height="1" fill="#000"/>
<text x="1172" y="90" font-size="10" fill="#000" textLength="33.0" lengthAdjust="spacingAndGlyphs">0.79260</text>
<rect x="1167" y="119" width="2" height="1" fill="#000"/>
<text x="1172" y="123" font-size="10" fill="#000" textLength="33.0" lengthAdjust="spacingAndGlyphs">0.78560</text>
<rect x="1167" y="152" width="2" height="1" fill="#000"/>
<text x="1172" y="156" font-size="10" fill="#000" textLength="33.0" lengthAdjust="spacingAndGlyphs">0.77860</text>
<rect x="1167" y="185" width="2" height="1" fill="#000"/>
<text x="1172" y="189" font-size="10" fill="#000" textLength="33.0" lengthAdjust="spacingAndGlyphs">0.77160</text>
<rect x="1167" y="218" width="2" height="1" fill="#000"/>
<text x="1172" y="222" font-size="10" fill="#000" textLength="33.0" lengthAdjust="spacingAndGlyphs">0.76460</text>
<rect x="1167" y="251" width="2" height="1" fill="#000"/>
<text x="1172" y="255" font-size="10" fill="#000" textLength="33.0" lengthAdjust="spacingAndGlyphs">0.75760</text>
<rect x="1167" y="284" width="2" height="1" fill="#000"/>
<text x="1172" y="288" font-size="10" fill="#000" textLength="33.0" lengthAdjust="spacingAndGlyphs">0.75060</text>
<rect x="1167" y="317" width="2" height="1" fill="#000"/>
<text x="1172" y="321" font-size="10" fill="#000" textLength="33.0" lengthAdjust="spacingAndGlyphs">0.74360</text>
<rect x="1167" y="350" width="2" height="1" fill="#000"/>
<text x="1172" y="354" font-size="10" fill="#000" textLength="33.0" lengthAdjust="spacingAndGlyphs">0.73660</text>
<rect x="1167" y="383" width="2" height="1" fill="#000"/>
<text x="1172" y="387" font-size="10" fill="#000" textLength="33.0" lengthAdjust="spacingAndGlyphs">0.72960</text>
<rect x="1167" y="416" width="2" height="1" fill="#000"/>
<text x="1172" y="420" font-size="10" fill="#000" textLength="33.0" lengthAdjust="spacingAndGlyphs">0.72280</text>
<rect x="1167" y="449" width="2" height="1" fill="#000"/>
<text x="1172" y="453" font-size="10" fill="#000" textLength="33.0" lengthAdjust="spacingAndGlyphs">0.71580</text>
<rect x="1166" y="182" width="2" height="2" fill="#ff0000"/>
<rect x="1168" y="177" width="40" height="11" fill="#ff0000"/>
<text x="1172" y="186" font-size="10" fill="#fff" textLength="33.0" lengthAdjust="spacingAndGlyphs">0.77200</text>
<rect x="1166" y="252" width="2" height="2" fill="#ff0000"/>
<rect x="1168" y="247" width="40" height="11" fill="#ff0000"/>
<text x="1172" y="256" font-size="10" fill="#fff" textLength="33.0" lengthAdjust="spacingAndGlyphs">0.75716</text>
<rect x="1166" y="333" width="2" height="2" fill="#00ff00"/>
<rect x="1168" y="328" width="40" height="11" fill="#00ff00"/>
<text x="1172" y="337" font-size="10" fill="#fff" textLength="33.0" lengthAdjust="spacingAndGlyphs">0.74007</text>
<rect x="1168" y="370" width="40" height="11" fill="#000000"/>
<text x="1172" y="379" font-size="10" fill="#fff" textLength="33.0" lengthAdjust="spacingAndGlyphs">0.73144</text>
<rect x="1166" y="408" width="2" height="2" fill="#0000ff"/>
<rect x="1168" y="403" width="40" height="11" fill="#0000ff"/>
<text x="1172" y="412" font-size="10" fill="#fff" textLength="33.0" lengthAdjust="spacingAndGlyphs">0.72411</text>
<rect x="1166" y="479" width="2" height="2" fill="#0000ff"/>
<rect x="1168" y="474" width="40" height="11" fill="#0000ff"/>
<text x="1172" y="483" font-size="10" fill="#fff" textLength="33.0" lengthAdjust="spacingAndGlyphs">0.70936</text>
<rect x="1166" y="483" width="2" height="2" fill="#ff0000"/>
<rect x="1168" y="478" width="40" height="11" fill="#ff0000"/>
<text x="1172" y="487" font-size="10" fill="#fff" textLength="33.0" lengthAdjust="spacingAndGlyphs">0.70820</text>
<polygon points="7,36.2 14,36.2 10.5,32.6" fill="#000"/>
<text x="19.4" y="37" font-size="9.8" fill="#000" textLength="65.0" lengthAdjust="spacingAndGlyphs">AUDUSD,Daily</text>
<text x="90.8" y="37" font-size="9.8" fill="#000" textLength="140.7" lengthAdjust="spacingAndGlyphs">0.73335 0.73379 0.73110 0.73144</text>
<defs>
<linearGradient id="gb" x1="0" y1="0" x2="0" y2="1"><stop offset="0" stop-color="#2e2ee0"/><stop offset="1" stop-color="#0000a8"/></linearGradient>
<linearGradient id="gs" x1="0" y1="0" x2="0" y2="1"><stop offset="0" stop-color="#5555f8"/><stop offset="1" stop-color="#3434e0"/></linearGradient>
<linearGradient id="gg" x1="0" y1="0" x2="0" y2="1"><stop offset="0" stop-color="#f0f0f0"/><stop offset="0.5" stop-color="#dcdcdc"/><stop offset="1" stop-color="#c8c8c8"/></linearGradient>
<clipPath id="cm"><rect x="4" y="26" width="1162" height="459"/></clipPath>
<clipPath id="c2"><rect x="4" y="488" width="1162" height="83"/></clipPath>
<clipPath id="c3"><rect x="4" y="574" width="1162" height="86"/></clipPath>
</defs>
<rect x="226" y="44" width="2" height="58" fill="#fff"/>
<rect x="7" y="45" width="52" height="25" fill="url(#gs)"/>
<rect x="7" y="69" width="109" height="33" fill="url(#gb)"/>
<rect x="11" y="69" width="44" height="1" fill="#9a9af0"/>
<rect x="174" y="45" width="52" height="25" fill="url(#gs)"/>
<rect x="118" y="69" width="108" height="33" fill="url(#gb)"/>
<rect x="178" y="69" width="44" height="1" fill="#9a9af0"/>
<rect x="7" y="45" width="52" height="1" fill="#0c0ca8"/>
<rect x="7" y="45" width="1" height="57" fill="#0c0ca8"/>
<rect x="58" y="45" width="1" height="24" fill="#0c0ca8"/>
<rect x="174" y="45" width="52" height="1" fill="#0c0ca8"/>
<rect x="174" y="45" width="1" height="24" fill="#0c0ca8"/>
<rect x="225" y="45" width="1" height="57" fill="#0c0ca8"/>
<rect x="7" y="101" width="109" height="1" fill="#0c0ca8"/>
<rect x="118" y="101" width="108" height="1" fill="#0c0ca8"/>
<rect x="115" y="69" width="1" height="33" fill="#0c0ca8"/>
<rect x="118" y="69" width="1" height="33" fill="#0c0ca8"/>
<rect x="58" y="69" width="58" height="1" fill="#0c0ca8"/>
<rect x="118" y="69" width="57" height="1" fill="#0c0ca8"/>
<rect x="61" y="45" width="111" height="22" fill="#b0b0b0"/>
<rect x="62" y="46" width="109" height="20" fill="#fff"/>
<rect x="63" y="47" width="19" height="18" fill="url(#gg)"/>
<rect x="151" y="47" width="19" height="18" fill="url(#gg)"/>
<rect x="82" y="46" width="1" height="20" fill="#b0b0b0"/>
<rect x="150" y="46" width="1" height="20" fill="#b0b0b0"/>
<polygon points="69,54 74,54 71.5,57" fill="#4a5ab8"/>
<polygon points="158,57 163,57 160.5,54" fill="#4a5ab8"/>
<text x="147" y="60" font-size="12" fill="#000" textLength="23.4" lengthAdjust="spacingAndGlyphs" text-anchor="end">3.00</text>
<text x="19.5" y="60.5" font-size="12" fill="#f0f0ff" textLength="25.2" lengthAdjust="spacingAndGlyphs">SELL</text>
<text x="187.5" y="60.5" font-size="12" fill="#f0f0ff" textLength="23.0" lengthAdjust="spacingAndGlyphs">BUY</text>
<text x="27.2" y="97.4" font-size="12" fill="#fff" textLength="23.5" lengthAdjust="spacingAndGlyphs" font-weight="bold">0.73</text>
<text x="137.1" y="97.4" font-size="12" fill="#fff" textLength="23.5" lengthAdjust="spacingAndGlyphs" font-weight="bold">0.73</text>
<text x="54.3" y="97.2" font-size="33" fill="#fff" textLength="35.6" lengthAdjust="spacingAndGlyphs">14</text>
<text x="164.6" y="97.2" font-size="33" fill="#fff" textLength="35.6" lengthAdjust="spacingAndGlyphs">15</text>
<text x="94" y="80.6" font-size="11.5" fill="#fff" textLength="7.0" lengthAdjust="spacingAndGlyphs" font-weight="bold">7</text>
<text x="204.2" y="80.6" font-size="11.5" fill="#fff" textLength="7.0" lengthAdjust="spacingAndGlyphs" font-weight="bold">9</text>
<g clip-path="url(#c2)">
<rect x="3" y="495" width="3" height="39" fill="#c0c0c0"/>
<rect x="7" y="494" width="3" height="40" fill="#c0c0c0"/>
<rect x="11" y="496" width="3" height="38" fill="#c0c0c0"/>
<rect x="15" y="500" width="3" height="34" fill="#c0c0c0"/>
<rect x="19" y="501" width="3" height="33" fill="#c0c0c0"/>
<rect x="23" y="501" width="3" height="33" fill="#c0c0c0"/>
<rect x="27" y="502" width="3" height="32" fill="#c0c0c0"/>
<rect x="31" y="504" width="3" height="30" fill="#c0c0c0"/>
<rect x="35" y="504" width="3" height="30" fill="#c0c0c0"/>
<rect x="39" y="501" width="3" height="33" fill="#c0c0c0"/>
<rect x="43" y="498" width="3" height="36" fill="#c0c0c0"/>
<rect x="47" y="497" width="3" height="37" fill="#c0c0c0"/>
<rect x="51" y="497" width="3" height="37" fill="#c0c0c0"/>
<rect x="55" y="496" width="3" height="38" fill="#c0c0c0"/>
<rect x="59" y="493" width="3" height="41" fill="#c0c0c0"/>
<rect x="63" y="493" width="3" height="41" fill="#c0c0c0"/>
<rect x="67" y="491" width="3" height="43" fill="#c0c0c0"/>
<rect x="71" y="492" width="3" height="42" fill="#c0c0c0"/>
<rect x="75" y="496" width="3" height="38" fill="#c0c0c0"/>
<rect x="79" y="497" width="3" height="37" fill="#c0c0c0"/>
<rect x="83" y="499" width="3" height="35" fill="#c0c0c0"/>
<rect x="87" y="499" width="3" height="35" fill="#c0c0c0"/>
<rect x="91" y="502" width="3" height="32" fill="#c0c0c0"/>
<rect x="95" y="505" width="3" height="29" fill="#c0c0c0"/>
<rect x="99" y="508" width="3" height="26" fill="#c0c0c0"/>
<rect x="103" y="510" width="3" height="24" fill="#c0c0c0"/>
<rect x="107" y="510" width="3" height="24" fill="#c0c0c0"/>
<rect x="111" y="510" width="3" height="24" fill="#c0c0c0"/>
<rect x="115" y="512" width="3" height="22" fill="#c0c0c0"/>
<rect x="119" y="514" width="3" height="20" fill="#c0c0c0"/>
<rect x="123" y="516" width="3" height="18" fill="#c0c0c0"/>
<rect x="127" y="516" width="3" height="18" fill="#c0c0c0"/>
<rect x="131" y="519" width="3" height="15" fill="#c0c0c0"/>
<rect x="135" y="522" width="3" height="12" fill="#c0c0c0"/>
<rect x="139" y="524" width="3" height="10" fill="#c0c0c0"/>
<rect x="143" y="528" width="3" height="6" fill="#c0c0c0"/>
<rect x="147" y="532" width="3" height="2" fill="#c0c0c0"/>
<rect x="151" y="534" width="3" height="2" fill="#c0c0c0"/>
<rect x="155" y="534" width="3" height="4" fill="#c0c0c0"/>
<rect x="159" y="534" width="3" height="6" fill="#c0c0c0"/>
<rect x="163" y="534" width="3" height="5" fill="#c0c0c0"/>
<rect x="167" y="534" width="3" height="4" fill="#c0c0c0"/>
<rect x="171" y="534" width="3" height="1" fill="#c0c0c0"/>
<rect x="175" y="533" width="3" height="1" fill="#c0c0c0"/>
<rect x="179" y="530" width="3" height="4" fill="#c0c0c0"/>
<rect x="183" y="527" width="3" height="7" fill="#c0c0c0"/>
<rect x="187" y="525" width="3" height="9" fill="#c0c0c0"/>
<rect x="191" y="524" width="3" height="10" fill="#c0c0c0"/>
<rect x="195" y="521" width="3" height="13" fill="#c0c0c0"/>
<rect x="199" y="520" width="3" height="14" fill="#c0c0c0"/>
<rect x="203" y="521" width="3" height="13" fill="#c0c0c0"/>
<rect x="207" y="521" width="3" height="13" fill="#c0c0c0"/>
<rect x="211" y="517" width="3" height="17" fill="#c0c0c0"/>
<rect x="215" y="513" width="3" height="21" fill="#c0c0c0"/>
<rect x="219" y="510" width="3" height="24" fill="#c0c0c0"/>
<rect x="223" y="507" width="3" height="27" fill="#c0c0c0"/>
<rect x="227" y="504" width="3" height="30" fill="#c0c0c0"/>
<rect x="231" y="501" width="3" height="33" fill="#c0c0c0"/>
<rect x="235" y="507" width="3" height="27" fill="#c0c0c0"/>
<rect x="239" y="514" width="3" height="20" fill="#c0c0c0"/>
<rect x="243" y="517" width="3" height="17" fill="#c0c0c0"/>
<rect x="247" y="518" width="3" height="16" fill="#c0c0c0"/>
<rect x="251" y="519" width="3" height="15" fill="#c0c0c0"/>
<rect x="255" y="521" width="3" height="13" fill="#c0c0c0"/>
<rect x="259" y="528" width="3" height="6" fill="#c0c0c0"/>
<rect x="263" y="532" width="3" height="2" fill="#c0c0c0"/>
<rect x="267" y="534" width="3" height="2" fill="#c0c0c0"/>
<rect x="271" y="534" width="3" height="4" fill="#c0c0c0"/>
<rect x="275" y="534" width="3" height="5" fill="#c0c0c0"/>
<rect x="279" y="534" width="3" height="4" fill="#c0c0c0"/>
<rect x="283" y="534" width="3" height="3" fill="#c0c0c0"/>
<rect x="287" y="534" width="3" height="2" fill="#c0c0c0"/>
<rect x="291" y="534" width="3" height="3" fill="#c0c0c0"/>
<rect x="295" y="534" width="3" height="3" fill="#c0c0c0"/>
<rect x="299" y="534" width="3" height="4" fill="#c0c0c0"/>
<rect x="303" y="534" width="3" height="1" fill="#c0c0c0"/>
<rect x="307" y="534" width="3" height="1" fill="#c0c0c0"/>
<rect x="311" y="534" width="3" height="1" fill="#c0c0c0"/>
<rect x="315" y="534" width="3" height="1" fill="#c0c0c0"/>
<rect x="319" y="534" width="3" height="4" fill="#c0c0c0"/>
<rect x="323" y="534" width="3" height="8" fill="#c0c0c0"/>
<rect x="327" y="534" width="3" height="14" fill="#c0c0c0"/>
<rect x="331" y="534" width="3" height="16" fill="#c0c0c0"/>
<rect x="335" y="534" width="3" height="17" fill="#c0c0c0"/>
<rect x="339" y="534" width="3" height="17" fill="#c0c0c0"/>
<rect x="343" y="534" width="3" height="19" fill="#c0c0c0"/>
<rect x="347" y="534" width="3" height="19" fill="#c0c0c0"/>
<rect x="351" y="534" width="3" height="20" fill="#c0c0c0"/>
<rect x="355" y="534" width="3" height="20" fill="#c0c0c0"/>
<rect x="359" y="534" width="3" height="20" fill="#c0c0c0"/>
<rect x="363" y="534" width="3" height="17" fill="#c0c0c0"/>
<rect x="367" y="534" width="3" height="15" fill="#c0c0c0"/>
<rect x="371" y="534" width="3" height="15" fill="#c0c0c0"/>
<rect x="375" y="534" width="3" height="14" fill="#c0c0c0"/>
<rect x="379" y="534" width="3" height="13" fill="#c0c0c0"/>
<rect x="383" y="534" width="3" height="12" fill="#c0c0c0"/>
<rect x="387" y="534" width="3" height="12" fill="#c0c0c0"/>
<rect x="391" y="534" width="3" height="11" fill="#c0c0c0"/>
<rect x="395" y="534" width="3" height="7" fill="#c0c0c0"/>
<rect x="399" y="534" width="3" height="2" fill="#c0c0c0"/>
<rect x="403" y="533" width="3" height="1" fill="#c0c0c0"/>
<rect x="407" y="530" width="3" height="4" fill="#c0c0c0"/>
<rect x="411" y="528" width="3" height="6" fill="#c0c0c0"/>
<rect x="415" y="526" width="3" height="8" fill="#c0c0c0"/>
<rect x="419" y="524" width="3" height="10" fill="#c0c0c0"/>
<rect x="423" y="525" width="3" height="9" fill="#c0c0c0"/>
<rect x="427" y="524" width="3" height="10" fill="#c0c0c0"/>
<rect x="431" y="523" width="3" height="11" fill="#c0c0c0"/>
<rect x="435" y="520" width="3" height="14" fill="#c0c0c0"/>
<rect x="439" y="520" width="3" height="14" fill="#c0c0c0"/>
<rect x="443" y="520" width="3" height="14" fill="#c0c0c0"/>
<rect x="447" y="520" width="3" height="14" fill="#c0c0c0"/>
<rect x="451" y="523" width="3" height="11" fill="#c0c0c0"/>
<rect x="455" y="525" width="3" height="9" fill="#c0c0c0"/>
<rect x="459" y="525" width="3" height="9" fill="#c0c0c0"/>
<rect x="463" y="528" width="3" height="6" fill="#c0c0c0"/>
<rect x="467" y="527" width="3" height="7" fill="#c0c0c0"/>
<rect x="471" y="526" width="3" height="8" fill="#c0c0c0"/>
<rect x="475" y="522" width="3" height="12" fill="#c0c0c0"/>
<rect x="479" y="519" width="3" height="15" fill="#c0c0c0"/>
<rect x="483" y="516" width="3" height="18" fill="#c0c0c0"/>
<rect x="487" y="515" width="3" height="19" fill="#c0c0c0"/>
<rect x="491" y="519" width="3" height="15" fill="#c0c0c0"/>
<rect x="495" y="523" width="3" height="11" fill="#c0c0c0"/>
<rect x="499" y="523" width="3" height="11" fill="#c0c0c0"/>
<rect x="503" y="524" width="3" height="10" fill="#c0c0c0"/>
<rect x="507" y="525" width="3" height="9" fill="#c0c0c0"/>
<rect x="511" y="525" width="3" height="9" fill="#c0c0c0"/>
<rect x="515" y="527" width="3" height="7" fill="#c0c0c0"/>
<rect x="519" y="527" width="3" height="7" fill="#c0c0c0"/>
<rect x="523" y="530" width="3" height="4" fill="#c0c0c0"/>
<rect x="527" y="531" width="3" height="3" fill="#c0c0c0"/>
<rect x="531" y="532" width="3" height="2" fill="#c0c0c0"/>
<rect x="535" y="533" width="3" height="1" fill="#c0c0c0"/>
<rect x="539" y="534" width="3" height="1" fill="#c0c0c0"/>
<rect x="543" y="534" width="3" height="1" fill="#c0c0c0"/>
<rect x="547" y="534" width="3" height="3" fill="#c0c0c0"/>
<rect x="551" y="534" width="3" height="4" fill="#c0c0c0"/>
<rect x="555" y="534" width="3" height="3" fill="#c0c0c0"/>
<rect x="559" y="534" width="3" height="2" fill="#c0c0c0"/>
<rect x="563" y="534" width="3" height="1" fill="#c0c0c0"/>
<rect x="567" y="534" width="3" height="5" fill="#c0c0c0"/>
<rect x="571" y="534" width="3" height="4" fill="#c0c0c0"/>
<rect x="575" y="534" width="3" height="3" fill="#c0c0c0"/>
<rect x="579" y="534" width="3" height="2" fill="#c0c0c0"/>
<rect x="583" y="534" width="3" height="2" fill="#c0c0c0"/>
<rect x="587" y="534" width="3" height="2" fill="#c0c0c0"/>
<rect x="591" y="534" width="3" height="1" fill="#c0c0c0"/>
<rect x="595" y="534" width="3" height="3" fill="#c0c0c0"/>
<rect x="599" y="534" width="3" height="4" fill="#c0c0c0"/>
<rect x="603" y="534" width="3" height="4" fill="#c0c0c0"/>
<rect x="607" y="534" width="3" height="6" fill="#c0c0c0"/>
<rect x="611" y="534" width="3" height="6" fill="#c0c0c0"/>
<rect x="615" y="534" width="3" height="12" fill="#c0c0c0"/>
<rect x="619" y="534" width="3" height="19" fill="#c0c0c0"/>
<rect x="623" y="534" width="3" height="25" fill="#c0c0c0"/>
<rect x="627" y="534" width="3" height="27" fill="#c0c0c0"/>
<rect x="631" y="534" width="3" height="29" fill="#c0c0c0"/>
<rect x="635" y="534" width="3" height="28" fill="#c0c0c0"/>
<rect x="639" y="534" width="3" height="27" fill="#c0c0c0"/>
<rect x="643" y="534" width="3" height="25" fill="#c0c0c0"/>
<rect x="647" y="534" width="3" height="24" fill="#c0c0c0"/>
<rect x="651" y="534" width="3" height="23" fill="#c0c0c0"/>
<rect x="655" y="534" width="3" height="24" fill="#c0c0c0"/>
<rect x="659" y="534" width="3" height="26" fill="#c0c0c0"/>
<rect x="663" y="534" width="3" height="28" fill="#c0c0c0"/>
<rect x="667" y="534" width="3" height="28" fill="#c0c0c0"/>
<rect x="671" y="534" width="3" height="27" fill="#c0c0c0"/>
<rect x="675" y="534" width="3" height="25" fill="#c0c0c0"/>
<rect x="679" y="534" width="3" height="25" fill="#c0c0c0"/>
<rect x="683" y="534" width="3" height="25" fill="#c0c0c0"/>
<rect x="687" y="534" width="3" height="27" fill="#c0c0c0"/>
<rect x="691" y="534" width="3" height="27" fill="#c0c0c0"/>
<rect x="695" y="534" width="3" height="25" fill="#c0c0c0"/>
<rect x="699" y="534" width="3" height="24" fill="#c0c0c0"/>
<rect x="703" y="534" width="3" height="23" fill="#c0c0c0"/>
<rect x="707" y="534" width="3" height="23" fill="#c0c0c0"/>
<rect x="711" y="534" width="3" height="24" fill="#c0c0c0"/>
<rect x="715" y="534" width="3" height="25" fill="#c0c0c0"/>
<rect x="719" y="534" width="3" height="26" fill="#c0c0c0"/>
<rect x="723" y="534" width="3" height="29" fill="#c0c0c0"/>
<rect x="727" y="534" width="3" height="32" fill="#c0c0c0"/>
<rect x="731" y="534" width="3" height="32" fill="#c0c0c0"/>
<rect x="735" y="534" width="3" height="32" fill="#c0c0c0"/>
<rect x="739" y="534" width="3" height="31" fill="#c0c0c0"/>
<rect x="743" y="534" width="3" height="31" fill="#c0c0c0"/>
<rect x="747" y="534" width="3" height="29" fill="#c0c0c0"/>
<rect x="751" y="534" width="3" height="27" fill="#c0c0c0"/>
<rect x="755" y="534" width="3" height="27" fill="#c0c0c0"/>
<rect x="759" y="534" width="3" height="24" fill="#c0c0c0"/>
<rect x="763" y="534" width="3" height="24" fill="#c0c0c0"/>
<rect x="767" y="534" width="3" height="24" fill="#c0c0c0"/>
<rect x="771" y="534" width="3" height="23" fill="#c0c0c0"/>
<rect x="775" y="534" width="3" height="21" fill="#c0c0c0"/>
<rect x="779" y="534" width="3" height="19" fill="#c0c0c0"/>
<rect x="783" y="534" width="3" height="16" fill="#c0c0c0"/>
<rect x="787" y="534" width="3" height="16" fill="#c0c0c0"/>
<rect x="791" y="534" width="3" height="16" fill="#c0c0c0"/>
<rect x="795" y="534" width="3" height="16" fill="#c0c0c0"/>
<rect x="799" y="534" width="3" height="15" fill="#c0c0c0"/>
<rect x="803" y="534" width="3" height="14" fill="#c0c0c0"/>
<rect x="807" y="534" width="3" height="14" fill="#c0c0c0"/>
<rect x="811" y="534" width="3" height="12" fill="#c0c0c0"/>
<rect x="815" y="534" width="3" height="11" fill="#c0c0c0"/>
<rect x="819" y="534" width="3" height="11" fill="#c0c0c0"/>
<rect x="823" y="534" width="3" height="15" fill="#c0c0c0"/>
<rect x="827" y="534" width="3" height="18" fill="#c0c0c0"/>
<rect x="831" y="534" width="3" height="24" fill="#c0c0c0"/>
<rect x="835" y="534" width="3" height="29" fill="#c0c0c0"/>
<rect x="839" y="534" width="3" height="33" fill="#c0c0c0"/>
<rect x="843" y="534" width="3" height="32" fill="#c0c0c0"/>
<rect x="847" y="534" width="3" height="29" fill="#c0c0c0"/>
<rect x="851" y="534" width="3" height="27" fill="#c0c0c0"/>
<rect x="855" y="534" width="3" height="25" fill="#c0c0c0"/>
<rect x="859" y="534" width="3" height="20" fill="#c0c0c0"/>
<rect x="863" y="534" width="3" height="17" fill="#c0c0c0"/>
<rect x="867" y="534" width="3" height="14" fill="#c0c0c0"/>
<rect x="871" y="534" width="3" height="12" fill="#c0c0c0"/>
<rect x="875" y="534" width="3" height="7" fill="#c0c0c0"/>
<rect x="879" y="534" width="3" height="2" fill="#c0c0c0"/>
<rect x="883" y="530" width="3" height="4" fill="#c0c0c0"/>
<rect x="887" y="525" width="3" height="9" fill="#c0c0c0"/>
<rect x="891" y="522" width="3" height="12" fill="#c0c0c0"/>
<rect x="895" y="522" width="3" height="12" fill="#c0c0c0"/>
<rect x="899" y="523" width="3" height="11" fill="#c0c0c0"/>
<rect x="903" y="523" width="3" height="11" fill="#c0c0c0"/>
<rect x="907" y="524" width="3" height="10" fill="#c0c0c0"/>
<rect x="911" y="525" width="3" height="9" fill="#c0c0c0"/>
<rect x="915" y="525" width="3" height="9" fill="#c0c0c0"/>
<rect x="919" y="527" width="3" height="7" fill="#c0c0c0"/>
<rect x="923" y="530" width="3" height="4" fill="#c0c0c0"/>
<path d="M74 494h12v1h-12zM70 495h4v1h-4zM86 495h7v1h-7zM67 496h3v1h-3zM93 496h2v1h-2zM18 497h4v1h-4zM65 497h2v1h-2zM95 497h3v1h-3zM10 498h8v1h-8zM22 498h8v1h-8zM62 498h3v1h-3zM98 498h3v1h-3zM6 499h4v1h-4zM30 499h8v1h-8zM54 499h8v1h-8zM101 499h2v1h-2zM4 500h2v1h-2zM38 500h16v1h-16zM103 500h2v1h-2zM105 501h2v1h-2zM107 502h2v1h-2zM109 503h2v1h-2zM111 504h2v1h-2zM113 505h2v1h-2zM115 506h3v1h-3zM118 507h3v1h-3zM121 508h2v1h-2zM123 509h2v1h-2zM242 509h4v1h-4zM125 510h2v1h-2zM238 510h4v1h-4zM246 510h8v1h-8zM127 511h3v1h-3zM234 511h4v1h-4zM254 511h3v1h-3zM130 512h3v1h-3zM231 512h3v1h-3zM257 512h1v1h-1zM133 513h2v1h-2zM229 513h2v1h-2zM258 513h2v1h-2zM135 514h3v1h-3zM228 514h1v1h-1zM260 514h1v1h-1zM138 515h3v1h-3zM226 515h2v1h-2zM261 515h1v1h-1zM141 516h2v1h-2zM225 516h1v1h-1zM262 516h2v1h-2zM143 517h2v1h-2zM223 517h2v1h-2zM264 517h1v1h-1zM145 518h1v1h-1zM221 518h2v1h-2zM265 518h1v1h-1zM146 519h2v1h-2zM219 519h2v1h-2zM266 519h1v1h-1zM148 520h1v1h-1zM217 520h2v1h-2zM267 520h1v1h-1zM502 520h8v1h-8zM149 521h1v1h-1zM215 521h2v1h-2zM268 521h1v1h-1zM490 521h12v1h-12zM510 521h7v1h-7zM150 522h2v1h-2zM213 522h2v1h-2zM269 522h1v1h-1zM446 522h20v1h-20zM486 522h4v1h-4zM517 522h2v1h-2zM152 523h1v1h-1zM210 523h3v1h-3zM270 523h2v1h-2zM442 523h4v1h-4zM466 523h20v1h-20zM519 523h3v1h-3zM918 523h4v1h-4zM153 524h2v1h-2zM207 524h3v1h-3zM272 524h1v1h-1zM438 524h4v1h-4zM522 524h3v1h-3zM914 524h4v1h-4zM922 524h3v1h-3zM155 525h2v1h-2zM205 525h2v1h-2zM273 525h1v1h-1zM435 525h3v1h-3zM525 525h2v1h-2zM911 525h3v1h-3zM157 526h1v1h-1zM203 526h2v1h-2zM274 526h2v1h-2zM433 526h2v1h-2zM527 526h3v1h-3zM909 526h2v1h-2zM158 527h2v1h-2zM201 527h2v1h-2zM276 527h1v1h-1zM431 527h2v1h-2zM530 527h4v1h-4zM907 527h2v1h-2zM160 528h1v1h-1zM199 528h2v1h-2zM277 528h2v1h-2zM429 528h2v1h-2zM534 528h4v1h-4zM905 528h2v1h-2zM161 529h2v1h-2zM197 529h2v1h-2zM279 529h2v1h-2zM427 529h2v1h-2zM538 529h4v1h-4zM904 529h1v1h-1zM163 530h2v1h-2zM195 530h2v1h-2zM281 530h2v1h-2zM425 530h2v1h-2zM542 530h4v1h-4zM902 530h2v1h-2zM165 531h1v1h-1zM193 531h2v1h-2zM283 531h2v1h-2zM424 531h1v1h-1zM546 531h4v1h-4zM901 531h1v1h-1zM166 532h2v1h-2zM191 532h2v1h-2zM285 532h2v1h-2zM422 532h2v1h-2zM550 532h3v1h-3zM900 532h1v1h-1zM168 533h2v1h-2zM189 533h2v1h-2zM287 533h2v1h-2zM421 533h1v1h-1zM553 533h2v1h-2zM898 533h2v1h-2zM170 534h4v1h-4zM186 534h3v1h-3zM289 534h2v1h-2zM419 534h2v1h-2zM555 534h7v1h-7zM897 534h1v1h-1zM174 535h12v1h-12zM291 535h3v1h-3zM417 535h2v1h-2zM562 535h8v1h-8zM896 535h1v1h-1zM294 536h4v1h-4zM310 536h15v1h-15zM416 536h1v1h-1zM570 536h8v1h-8zM582 536h28v1h-28zM895 536h1v1h-1zM298 537h12v1h-12zM325 537h2v1h-2zM414 537h2v1h-2zM578 537h4v1h-4zM610 537h4v1h-4zM894 537h1v1h-1zM327 538h3v1h-3zM413 538h1v1h-1zM614 538h3v1h-3zM893 538h1v1h-1zM330 539h4v1h-4zM411 539h2v1h-2zM617 539h2v1h-2zM892 539h1v1h-1zM334 540h3v1h-3zM409 540h2v1h-2zM619 540h2v1h-2zM891 540h1v1h-1zM337 541h2v1h-2zM407 541h2v1h-2zM621 541h2v1h-2zM890 541h1v1h-1zM339 542h2v1h-2zM405 542h2v1h-2zM623 542h2v1h-2zM889 542h1v1h-1zM341 543h2v1h-2zM403 543h2v1h-2zM625 543h1v1h-1zM888 543h1v1h-1zM343 544h2v1h-2zM401 544h2v1h-2zM626 544h2v1h-2zM887 544h1v1h-1zM345 545h2v1h-2zM398 545h3v1h-3zM628 545h1v1h-1zM886 545h1v1h-1zM347 546h2v1h-2zM395 546h3v1h-3zM629 546h1v1h-1zM885 546h1v1h-1zM349 547h2v1h-2zM393 547h2v1h-2zM630 547h2v1h-2zM818 547h12v1h-12zM884 547h1v1h-1zM351 548h2v1h-2zM390 548h3v1h-3zM632 548h1v1h-1zM814 548h4v1h-4zM830 548h3v1h-3zM882 548h2v1h-2zM353 549h2v1h-2zM386 549h4v1h-4zM633 549h1v1h-1zM810 549h4v1h-4zM833 549h2v1h-2zM881 549h1v1h-1zM355 550h3v1h-3zM378 550h8v1h-8zM634 550h2v1h-2zM806 550h4v1h-4zM835 550h2v1h-2zM880 550h1v1h-1zM358 551h4v1h-4zM370 551h8v1h-8zM636 551h1v1h-1zM802 551h4v1h-4zM837 551h2v1h-2zM879 551h1v1h-1zM362 552h8v1h-8zM637 552h2v1h-2zM798 552h4v1h-4zM839 552h2v1h-2zM878 552h1v1h-1zM639 553h2v1h-2zM794 553h4v1h-4zM841 553h2v1h-2zM877 553h1v1h-1zM641 554h2v1h-2zM790 554h4v1h-4zM843 554h2v1h-2zM876 554h1v1h-1zM643 555h2v1h-2zM786 555h4v1h-4zM845 555h2v1h-2zM874 555h2v1h-2zM645 556h2v1h-2zM783 556h3v1h-3zM847 556h2v1h-2zM873 556h1v1h-1zM647 557h2v1h-2zM781 557h2v1h-2zM849 557h2v1h-2zM871 557h2v1h-2zM649 558h2v1h-2zM706 558h16v1h-16zM778 558h3v1h-3zM851 558h3v1h-3zM869 558h2v1h-2zM651 559h11v1h-11zM666 559h20v1h-20zM698 559h8v1h-8zM722 559h8v1h-8zM774 559h4v1h-4zM854 559h4v1h-4zM866 559h3v1h-3zM662 560h4v1h-4zM686 560h12v1h-12zM730 560h4v1h-4zM770 560h4v1h-4zM858 560h8v1h-8zM734 561h4v1h-4zM766 561h4v1h-4zM738 562h4v1h-4zM762 562h4v1h-4zM742 563h12v1h-12zM758 563h4v1h-4zM754 564h4v1h-4z" fill="#ff0000" shape-rendering="crispEdges"/>
</g>
<text x="8" y="500" font-size="10" fill="#000" textLength="148.0" lengthAdjust="spacingAndGlyphs">MACD(12,26,9) 0.000753 0.001766</text>
<text x="1170" y="498" font-size="10" fill="#000" textLength="38.0" lengthAdjust="spacingAndGlyphs">0.008904</text>
<rect x="1167" y="534" width="1" height="1" fill="#000"/>
<text x="1170" y="538" font-size="10" fill="#000" textLength="17.4" lengthAdjust="spacingAndGlyphs">0.00</text>
<text x="1169.9" y="568" font-size="10" fill="#000" textLength="41.5" lengthAdjust="spacingAndGlyphs">-0.007013</text>
<g clip-path="url(#c3)">
<line x1="4" y1="600.5" x2="1166" y2="600.5" stroke="#c0c0c0" stroke-width="1" stroke-dasharray="3,3" shape-rendering="crispEdges"/>
<line x1="4" y1="634.5" x2="1166" y2="634.5" stroke="#c0c0c0" stroke-width="1" stroke-dasharray="3,3" shape-rendering="crispEdges"/>
<path d="M6 593h3v1h-3zM4 594h2v1h-2zM8 594h1v1h-1zM9 595h1v1h-1zM9 596h1v1h-1zM231 596h2v1h-2zM9 597h1v1h-1zM43 597h2v1h-2zM60 597h1v1h-1zM229 597h2v1h-2zM232 597h1v1h-1zM10 598h1v1h-1zM41 598h2v1h-2zM45 598h1v1h-1zM58 598h2v1h-2zM61 598h1v1h-1zM67 598h2v1h-2zM226 598h3v1h-3zM232 598h1v1h-1zM10 599h1v1h-1zM40 599h1v1h-1zM46 599h1v1h-1zM57 599h1v1h-1zM62 599h2v1h-2zM65 599h2v1h-2zM69 599h1v1h-1zM222 599h4v1h-4zM233 599h1v1h-1zM10 600h1v1h-1zM39 600h1v1h-1zM47 600h1v1h-1zM56 600h1v1h-1zM64 600h1v1h-1zM70 600h1v1h-1zM218 600h4v1h-4zM233 600h1v1h-1zM11 601h1v1h-1zM38 601h1v1h-1zM48 601h1v1h-1zM54 601h2v1h-2zM70 601h1v1h-1zM214 601h4v1h-4zM233 601h1v1h-1zM11 602h1v1h-1zM38 602h1v1h-1zM49 602h2v1h-2zM53 602h1v1h-1zM71 602h1v1h-1zM212 602h2v1h-2zM233 602h1v1h-1zM11 603h1v1h-1zM37 603h1v1h-1zM51 603h2v1h-2zM72 603h1v1h-1zM212 603h1v1h-1zM233 603h1v1h-1zM12 604h1v1h-1zM22 604h4v1h-4zM36 604h1v1h-1zM73 604h1v1h-1zM87 604h2v1h-2zM211 604h1v1h-1zM233 604h1v1h-1zM886 604h3v1h-3zM12 605h1v1h-1zM20 605h2v1h-2zM26 605h3v1h-3zM35 605h1v1h-1zM73 605h1v1h-1zM85 605h2v1h-2zM89 605h1v1h-1zM211 605h1v1h-1zM234 605h1v1h-1zM436 605h1v1h-1zM476 605h1v1h-1zM483 605h2v1h-2zM884 605h2v1h-2zM889 605h1v1h-1zM13 606h1v1h-1zM19 606h1v1h-1zM29 606h1v1h-1zM34 606h1v1h-1zM74 606h1v1h-1zM82 606h3v1h-3zM89 606h1v1h-1zM195 606h3v1h-3zM210 606h1v1h-1zM234 606h1v1h-1zM435 606h1v1h-1zM437 606h1v1h-1zM475 606h1v1h-1zM477 606h2v1h-2zM481 606h2v1h-2zM485 606h1v1h-1zM882 606h2v1h-2zM890 606h2v1h-2zM13 607h1v1h-1zM19 607h1v1h-1zM30 607h2v1h-2zM33 607h1v1h-1zM74 607h1v1h-1zM80 607h2v1h-2zM90 607h1v1h-1zM111 607h2v1h-2zM184 607h1v1h-1zM193 607h2v1h-2zM198 607h3v1h-3zM210 607h1v1h-1zM234 607h1v1h-1zM434 607h1v1h-1zM438 607h1v1h-1zM475 607h1v1h-1zM479 607h2v1h-2zM486 607h1v1h-1zM881 607h1v1h-1zM892 607h1v1h-1zM14 608h1v1h-1zM18 608h1v1h-1zM32 608h1v1h-1zM75 608h1v1h-1zM78 608h2v1h-2zM90 608h1v1h-1zM109 608h2v1h-2zM113 608h1v1h-1zM182 608h2v1h-2zM185 608h2v1h-2zM190 608h3v1h-3zM201 608h1v1h-1zM210 608h1v1h-1zM234 608h1v1h-1zM399 608h2v1h-2zM411 608h2v1h-2zM419 608h2v1h-2zM433 608h1v1h-1zM439 608h1v1h-1zM474 608h1v1h-1zM487 608h1v1h-1zM880 608h1v1h-1zM893 608h1v1h-1zM15 609h1v1h-1zM17 609h1v1h-1zM75 609h1v1h-1zM77 609h1v1h-1zM91 609h1v1h-1zM108 609h1v1h-1zM113 609h1v1h-1zM181 609h1v1h-1zM187 609h3v1h-3zM201 609h1v1h-1zM209 609h1v1h-1zM234 609h1v1h-1zM397 609h2v1h-2zM401 609h2v1h-2zM409 609h2v1h-2zM413 609h2v1h-2zM417 609h2v1h-2zM421 609h1v1h-1zM431 609h2v1h-2zM440 609h2v1h-2zM474 609h1v1h-1zM488 609h1v1h-1zM878 609h2v1h-2zM894 609h1v1h-1zM15 610h1v1h-1zM17 610h1v1h-1zM76 610h1v1h-1zM91 610h1v1h-1zM106 610h2v1h-2zM114 610h1v1h-1zM128 610h1v1h-1zM178 610h3v1h-3zM202 610h1v1h-1zM209 610h1v1h-1zM234 610h1v1h-1zM396 610h1v1h-1zM403 610h6v1h-6zM415 610h2v1h-2zM422 610h1v1h-1zM429 610h2v1h-2zM442 610h3v1h-3zM473 610h1v1h-1zM488 610h1v1h-1zM877 610h1v1h-1zM894 610h1v1h-1zM16 611h1v1h-1zM92 611h1v1h-1zM94 611h3v1h-3zM105 611h1v1h-1zM115 611h1v1h-1zM127 611h1v1h-1zM129 611h1v1h-1zM174 611h4v1h-4zM203 611h1v1h-1zM208 611h1v1h-1zM235 611h1v1h-1zM396 611h1v1h-1zM422 611h1v1h-1zM427 611h2v1h-2zM445 611h2v1h-2zM473 611h1v1h-1zM489 611h1v1h-1zM876 611h1v1h-1zM895 611h1v1h-1zM92 612h2v1h-2zM97 612h1v1h-1zM103 612h2v1h-2zM115 612h1v1h-1zM126 612h1v1h-1zM129 612h1v1h-1zM172 612h2v1h-2zM203 612h1v1h-1zM206 612h3v1h-3zM235 612h1v1h-1zM395 612h1v1h-1zM423 612h1v1h-1zM425 612h2v1h-2zM447 612h2v1h-2zM460 612h1v1h-1zM471 612h2v1h-2zM489 612h1v1h-1zM875 612h1v1h-1zM896 612h1v1h-1zM98 613h2v1h-2zM101 613h2v1h-2zM116 613h6v1h-6zM125 613h1v1h-1zM130 613h1v1h-1zM171 613h1v1h-1zM204 613h2v1h-2zM235 613h1v1h-1zM304 613h1v1h-1zM395 613h1v1h-1zM424 613h1v1h-1zM449 613h1v1h-1zM459 613h1v1h-1zM461 613h1v1h-1zM469 613h2v1h-2zM490 613h1v1h-1zM874 613h1v1h-1zM897 613h1v1h-1zM903 613h2v1h-2zM100 614h1v1h-1zM122 614h3v1h-3zM130 614h1v1h-1zM170 614h1v1h-1zM235 614h1v1h-1zM247 614h3v1h-3zM303 614h1v1h-1zM305 614h1v1h-1zM395 614h1v1h-1zM449 614h1v1h-1zM459 614h1v1h-1zM461 614h1v1h-1zM468 614h1v1h-1zM490 614h1v1h-1zM502 614h3v1h-3zM580 614h1v1h-1zM874 614h1v1h-1zM898 614h2v1h-2zM901 614h2v1h-2zM905 614h2v1h-2zM131 615h1v1h-1zM169 615h1v1h-1zM235 615h1v1h-1zM245 615h2v1h-2zM250 615h7v1h-7zM303 615h1v1h-1zM306 615h1v1h-1zM394 615h1v1h-1zM450 615h1v1h-1zM458 615h1v1h-1zM462 615h1v1h-1zM467 615h1v1h-1zM490 615h1v1h-1zM500 615h2v1h-2zM505 615h2v1h-2zM510 615h3v1h-3zM520 615h1v1h-1zM560 615h2v1h-2zM578 615h2v1h-2zM581 615h1v1h-1zM873 615h1v1h-1zM900 615h1v1h-1zM907 615h3v1h-3zM914 615h3v1h-3zM131 616h1v1h-1zM166 616h3v1h-3zM235 616h1v1h-1zM244 616h1v1h-1zM256 616h1v1h-1zM280 616h2v1h-2zM286 616h3v1h-3zM302 616h1v1h-1zM307 616h1v1h-1zM394 616h1v1h-1zM451 616h1v1h-1zM458 616h1v1h-1zM462 616h1v1h-1zM467 616h1v1h-1zM491 616h1v1h-1zM499 616h1v1h-1zM507 616h3v1h-3zM513 616h1v1h-1zM518 616h2v1h-2zM521 616h1v1h-1zM558 616h2v1h-2zM562 616h3v1h-3zM577 616h1v1h-1zM582 616h2v1h-2zM591 616h2v1h-2zM860 616h5v1h-5zM871 616h2v1h-2zM910 616h4v1h-4zM917 616h1v1h-1zM132 617h1v1h-1zM164 617h2v1h-2zM236 617h1v1h-1zM243 617h1v1h-1zM257 617h1v1h-1zM279 617h1v1h-1zM282 617h4v1h-4zM289 617h1v1h-1zM295 617h2v1h-2zM302 617h1v1h-1zM308 617h9v1h-9zM393 617h1v1h-1zM451 617h1v1h-1zM457 617h1v1h-1zM463 617h1v1h-1zM466 617h1v1h-1zM491 617h1v1h-1zM498 617h1v1h-1zM514 617h2v1h-2zM517 617h1v1h-1zM522 617h1v1h-1zM557 617h1v1h-1zM564 617h1v1h-1zM572 617h5v1h-5zM584 617h2v1h-2zM589 617h2v1h-2zM593 617h1v1h-1zM859 617h1v1h-1zM865 617h2v1h-2zM869 617h2v1h-2zM918 617h1v1h-1zM133 618h2v1h-2zM138 618h3v1h-3zM163 618h1v1h-1zM236 618h1v1h-1zM243 618h1v1h-1zM257 618h1v1h-1zM278 618h1v1h-1zM290 618h2v1h-2zM293 618h2v1h-2zM297 618h1v1h-1zM301 618h1v1h-1zM317 618h1v1h-1zM366 618h3v1h-3zM393 618h1v1h-1zM452 618h2v1h-2zM457 618h1v1h-1zM463 618h1v1h-1zM465 618h1v1h-1zM492 618h1v1h-1zM498 618h1v1h-1zM516 618h1v1h-1zM522 618h1v1h-1zM534 618h8v1h-8zM556 618h1v1h-1zM565 618h1v1h-1zM572 618h1v1h-1zM586 618h3v1h-3zM593 618h1v1h-1zM784 618h1v1h-1zM859 618h1v1h-1zM867 618h2v1h-2zM919 618h1v1h-1zM135 619h3v1h-3zM141 619h1v1h-1zM163 619h1v1h-1zM236 619h1v1h-1zM242 619h1v1h-1zM258 619h1v1h-1zM277 619h1v1h-1zM292 619h1v1h-1zM298 619h2v1h-2zM301 619h1v1h-1zM318 619h1v1h-1zM364 619h2v1h-2zM369 619h1v1h-1zM393 619h1v1h-1zM454 619h3v1h-3zM464 619h2v1h-2zM492 619h2v1h-2zM497 619h1v1h-1zM523 619h1v1h-1zM526 619h8v1h-8zM542 619h3v1h-3zM555 619h1v1h-1zM565 619h1v1h-1zM571 619h1v1h-1zM594 619h1v1h-1zM603 619h2v1h-2zM612 619h1v1h-1zM783 619h1v1h-1zM785 619h1v1h-1zM812 619h5v1h-5zM858 619h1v1h-1zM920 619h1v1h-1zM142 620h1v1h-1zM162 620h1v1h-1zM237 620h1v1h-1zM241 620h1v1h-1zM258 620h1v1h-1zM274 620h3v1h-3zM300 620h1v1h-1zM318 620h1v1h-1zM363 620h1v1h-1zM370 620h2v1h-2zM374 620h4v1h-4zM392 620h1v1h-1zM464 620h1v1h-1zM494 620h3v1h-3zM524 620h2v1h-2zM545 620h1v1h-1zM554 620h1v1h-1zM565 620h1v1h-1zM571 620h1v1h-1zM595 620h1v1h-1zM601 620h2v1h-2zM605 620h1v1h-1zM611 620h2v1h-2zM782 620h1v1h-1zM786 620h1v1h-1zM804 620h1v1h-1zM811 620h1v1h-1zM817 620h1v1h-1zM858 620h1v1h-1zM921 620h2v1h-2zM143 621h1v1h-1zM162 621h1v1h-1zM238 621h2v1h-2zM241 621h1v1h-1zM258 621h1v1h-1zM272 621h2v1h-2zM319 621h1v1h-1zM363 621h1v1h-1zM372 621h2v1h-2zM378 621h8v1h-8zM390 621h3v1h-3zM546 621h1v1h-1zM553 621h1v1h-1zM566 621h1v1h-1zM570 621h1v1h-1zM595 621h1v1h-1zM598 621h3v1h-3zM606 621h1v1h-1zM610 621h1v1h-1zM613 621h1v1h-1zM776 621h2v1h-2zM781 621h1v1h-1zM786 621h1v1h-1zM803 621h1v1h-1zM805 621h1v1h-1zM810 621h1v1h-1zM818 621h1v1h-1zM850 621h3v1h-3zM857 621h1v1h-1zM923 621h2v1h-2zM144 622h1v1h-1zM161 622h1v1h-1zM240 622h1v1h-1zM259 622h1v1h-1zM264 622h1v1h-1zM270 622h2v1h-2zM320 622h1v1h-1zM339 622h2v1h-2zM362 622h1v1h-1zM386 622h4v1h-4zM547 622h1v1h-1zM550 622h3v1h-3zM566 622h1v1h-1zM570 622h1v1h-1zM596 622h2v1h-2zM607 622h1v1h-1zM609 622h1v1h-1zM613 622h1v1h-1zM644 622h2v1h-2zM760 622h1v1h-1zM774 622h2v1h-2zM778 622h3v1h-3zM787 622h1v1h-1zM802 622h1v1h-1zM806 622h1v1h-1zM810 622h1v1h-1zM818 622h1v1h-1zM848 622h2v1h-2zM853 622h2v1h-2zM857 622h1v1h-1zM145 623h2v1h-2zM156 623h2v1h-2zM161 623h1v1h-1zM259 623h1v1h-1zM262 623h2v1h-2zM265 623h2v1h-2zM269 623h1v1h-1zM321 623h1v1h-1zM337 623h2v1h-2zM341 623h1v1h-1zM355 623h2v1h-2zM361 623h1v1h-1zM548 623h2v1h-2zM567 623h1v1h-1zM570 623h1v1h-1zM608 623h1v1h-1zM613 623h1v1h-1zM636 623h1v1h-1zM642 623h2v1h-2zM646 623h4v1h-4zM760 623h2v1h-2zM773 623h1v1h-1zM788 623h2v1h-2zM801 623h1v1h-1zM807 623h1v1h-1zM809 623h1v1h-1zM819 623h1v1h-1zM847 623h1v1h-1zM855 623h2v1h-2zM147 624h2v1h-2zM155 624h1v1h-1zM158 624h3v1h-3zM260 624h2v1h-2zM267 624h2v1h-2zM322 624h1v1h-1zM332 624h5v1h-5zM342 624h2v1h-2zM346 624h4v1h-4zM353 624h2v1h-2zM357 624h2v1h-2zM361 624h1v1h-1zM567 624h1v1h-1zM569 624h1v1h-1zM614 624h1v1h-1zM635 624h1v1h-1zM637 624h2v1h-2zM641 624h1v1h-1zM650 624h3v1h-3zM672 624h5v1h-5zM695 624h6v1h-6zM759 624h1v1h-1zM762 624h1v1h-1zM772 624h1v1h-1zM790 624h4v1h-4zM798 624h3v1h-3zM808 624h1v1h-1zM820 624h1v1h-1zM847 624h1v1h-1zM149 625h1v1h-1zM154 625h1v1h-1zM260 625h1v1h-1zM323 625h1v1h-1zM331 625h1v1h-1zM344 625h2v1h-2zM350 625h3v1h-3zM359 625h2v1h-2zM567 625h1v1h-1zM569 625h1v1h-1zM614 625h1v1h-1zM635 625h1v1h-1zM639 625h2v1h-2zM653 625h1v1h-1zM671 625h1v1h-1zM677 625h1v1h-1zM693 625h2v1h-2zM701 625h2v1h-2zM759 625h1v1h-1zM762 625h1v1h-1zM771 625h1v1h-1zM794 625h4v1h-4zM821 625h1v1h-1zM846 625h1v1h-1zM150 626h2v1h-2zM153 626h1v1h-1zM324 626h1v1h-1zM331 626h1v1h-1zM568 626h1v1h-1zM614 626h1v1h-1zM634 626h1v1h-1zM654 626h1v1h-1zM670 626h1v1h-1zM678 626h2v1h-2zM692 626h1v1h-1zM703 626h3v1h-3zM758 626h1v1h-1zM763 626h1v1h-1zM770 626h1v1h-1zM821 626h1v1h-1zM845 626h1v1h-1zM152 627h1v1h-1zM325 627h1v1h-1zM330 627h1v1h-1zM568 627h1v1h-1zM615 627h1v1h-1zM634 627h1v1h-1zM654 627h1v1h-1zM669 627h1v1h-1zM680 627h2v1h-2zM691 627h1v1h-1zM706 627h3v1h-3zM748 627h1v1h-1zM758 627h1v1h-1zM764 627h2v1h-2zM769 627h1v1h-1zM822 627h1v1h-1zM845 627h1v1h-1zM326 628h1v1h-1zM329 628h1v1h-1zM615 628h1v1h-1zM633 628h1v1h-1zM655 628h1v1h-1zM668 628h1v1h-1zM682 628h3v1h-3zM690 628h1v1h-1zM709 628h2v1h-2zM746 628h2v1h-2zM749 628h2v1h-2zM757 628h1v1h-1zM766 628h3v1h-3zM822 628h1v1h-1zM844 628h1v1h-1zM327 629h1v1h-1zM329 629h1v1h-1zM615 629h1v1h-1zM633 629h1v1h-1zM656 629h2v1h-2zM667 629h1v1h-1zM685 629h1v1h-1zM690 629h1v1h-1zM711 629h2v1h-2zM745 629h1v1h-1zM751 629h2v1h-2zM757 629h1v1h-1zM823 629h1v1h-1zM844 629h1v1h-1zM328 630h1v1h-1zM616 630h1v1h-1zM628 630h5v1h-5zM658 630h3v1h-3zM666 630h1v1h-1zM686 630h2v1h-2zM689 630h1v1h-1zM713 630h1v1h-1zM742 630h3v1h-3zM753 630h2v1h-2zM756 630h1v1h-1zM823 630h1v1h-1zM843 630h1v1h-1zM616 631h1v1h-1zM626 631h2v1h-2zM661 631h2v1h-2zM665 631h1v1h-1zM688 631h1v1h-1zM714 631h2v1h-2zM734 631h8v1h-8zM755 631h2v1h-2zM824 631h1v1h-1zM843 631h1v1h-1zM617 632h1v1h-1zM625 632h1v1h-1zM663 632h2v1h-2zM716 632h5v1h-5zM732 632h2v1h-2zM825 632h2v1h-2zM842 632h1v1h-1zM618 633h2v1h-2zM622 633h3v1h-3zM721 633h1v1h-1zM731 633h1v1h-1zM827 633h2v1h-2zM842 633h1v1h-1zM620 634h2v1h-2zM722 634h1v1h-1zM731 634h1v1h-1zM829 634h1v1h-1zM841 634h1v1h-1zM723 635h1v1h-1zM730 635h1v1h-1zM830 635h1v1h-1zM841 635h1v1h-1zM724 636h1v1h-1zM729 636h1v1h-1zM831 636h1v1h-1zM840 636h1v1h-1zM725 637h2v1h-2zM729 637h1v1h-1zM832 637h1v1h-1zM839 637h2v1h-2zM727 638h2v1h-2zM833 638h2v1h-2zM837 638h2v1h-2zM835 639h2v1h-2z" fill="#1e90ff" shape-rendering="crispEdges"/>
</g>
<text x="8" y="586" font-size="10" fill="#000" textLength="67.6" lengthAdjust="spacingAndGlyphs">RSI(14) 44.9192</text>
<text x="1170.6" y="584" font-size="10" fill="#000" textLength="14.0" lengthAdjust="spacingAndGlyphs">100</text>
<text x="1169.2" y="604" font-size="10" fill="#000" textLength="9.8" lengthAdjust="spacingAndGlyphs">70</text>
<text x="1169.2" y="638" font-size="10" fill="#000" textLength="9.8" lengthAdjust="spacingAndGlyphs">30</text>
<text x="1170.2" y="657" font-size="10" fill="#000" textLength="4.8" lengthAdjust="spacingAndGlyphs">0</text>
<rect x="4" y="661" width="1" height="3" fill="#000"/>
<text x="3.6" y="673" font-size="10" fill="#000" textLength="50.5" lengthAdjust="spacingAndGlyphs">18 Dec 2020</text>
<rect x="68" y="661" width="1" height="3" fill="#000"/>
<text x="67.6" y="673" font-size="10" fill="#000" textLength="43.3" lengthAdjust="spacingAndGlyphs">8 Jan 2021</text>
<rect x="132" y="661" width="1" height="3" fill="#000"/>
<text x="131.6" y="673" font-size="10" fill="#000" textLength="48.7" lengthAdjust="spacingAndGlyphs">27 Jan 2021</text>
<rect x="196" y="661" width="1" height="3" fill="#000"/>
<text x="195.6" y="673" font-size="10" fill="#000" textLength="51.3" lengthAdjust="spacingAndGlyphs">15 Feb 2021</text>
<rect x="260" y="661" width="1" height="3" fill="#000"/>
<text x="259.6" y="673" font-size="10" fill="#000" textLength="45.0" lengthAdjust="spacingAndGlyphs">5 Mar 2021</text>
<rect x="324" y="661" width="1" height="3" fill="#000"/>
<text x="323.6" y="673" font-size="10" fill="#000" textLength="50.6" lengthAdjust="spacingAndGlyphs">24 Mar 2021</text>
<rect x="388" y="661" width="1" height="3" fill="#000"/>
<text x="387.6" y="673" font-size="10" fill="#000" textLength="49.7" lengthAdjust="spacingAndGlyphs">12 Apr 2021</text>
<rect x="452" y="661" width="1" height="3" fill="#000"/>
<text x="451.6" y="673" font-size="10" fill="#000" textLength="49.2" lengthAdjust="spacingAndGlyphs">30 Apr 2021</text>
<rect x="516" y="661" width="1" height="3" fill="#000"/>
<text x="515.6" y="673" font-size="10" fill="#000" textLength="53.3" lengthAdjust="spacingAndGlyphs">19 May 2021</text>
<rect x="580" y="661" width="1" height="3" fill="#000"/>
<text x="579.6" y="673" font-size="10" fill="#000" textLength="42.3" lengthAdjust="spacingAndGlyphs">7 Jun 2021</text>
<rect x="644" y="661" width="1" height="3" fill="#000"/>
<text x="643.6" y="673" font-size="10" fill="#000" textLength="47.9" lengthAdjust="spacingAndGlyphs">25 Jun 2021</text>
<rect x="708" y="661" width="1" height="3" fill="#000"/>
<text x="707.6" y="673" font-size="10" fill="#000" textLength="44.6" lengthAdjust="spacingAndGlyphs">14 Jul 2021</text>
<rect x="772" y="661" width="1" height="3" fill="#000"/>
<text x="771.6" y="673" font-size="10" fill="#000" textLength="46.0" lengthAdjust="spacingAndGlyphs">2 Aug 2021</text>
<rect x="836" y="661" width="1" height="3" fill="#000"/>
<text x="835.6" y="673" font-size="10" fill="#000" textLength="51.5" lengthAdjust="spacingAndGlyphs">20 Aug 2021</text>
<rect x="900" y="661" width="1" height="3" fill="#000"/>
<text x="899.6" y="673" font-size="10" fill="#000" textLength="45.5" lengthAdjust="spacingAndGlyphs">8 Sep 2021</text>
<rect x="0" y="681" width="1208" height="1" fill="#fff"/>
<rect x="0" y="682" width="1208" height="1" fill="#e6e6e6"/>
<rect x="0" y="684" width="1208" height="21" fill="#f0f0f0"/>
<rect x="0" y="684" width="1208" height="1" fill="#f8f8f8"/>
<rect x="0" y="703" width="1208" height="1" fill="#fafafa"/>
<rect x="0" y="683" width="1208" height="1" fill="#000"/>
<rect x="0" y="684" width="1" height="18" fill="#505050"/>
<rect x="98" y="683" width="102" height="18" fill="#fff"/>
<rect x="97" y="683" width="1" height="19" fill="#000"/>
<rect x="200" y="683" width="1" height="19" fill="#000"/>
<rect x="97" y="701" width="104" height="1" fill="#000"/>
<text x="17.9" y="697.7" font-size="12" fill="#6e6e6e" textLength="67.1" lengthAdjust="spacingAndGlyphs">EURUSD,H4</text>
<text x="108.5" y="697.7" font-size="12" fill="#000" textLength="81.5" lengthAdjust="spacingAndGlyphs">AUDUSD,Daily</text>
<text x="211.1" y="697.7" font-size="12" fill="#6e6e6e" textLength="67.0" lengthAdjust="spacingAndGlyphs">USDCHF,H4</text>
<text x="300.9" y="697.7" font-size="12" fill="#6e6e6e" textLength="79.9" lengthAdjust="spacingAndGlyphs">USDCAD,Daily</text>
<text x="403.6" y="697.7" font-size="12" fill="#6e6e6e" textLength="81.6" lengthAdjust="spacingAndGlyphs">USDCNH,Daily</text>
<text x="509.2" y="697.7" font-size="12" fill="#6e6e6e" textLength="51.5" lengthAdjust="spacingAndGlyphs">UKOil,H1</text>
<text x="583.4" y="697.7" font-size="12" fill="#6e6e6e" textLength="46.5" lengthAdjust="spacingAndGlyphs">DJ30,H1</text>
<text x="653.6" y="697.7" font-size="12" fill="#6e6e6e" textLength="51.4" lengthAdjust="spacingAndGlyphs">USDX,H1</text>
<text x="728.7" y="697.7" font-size="12" fill="#6e6e6e" textLength="68.3" lengthAdjust="spacingAndGlyphs">XAUUSD,H4</text>
<text x="822" y="697.7" font-size="12" fill="#6e6e6e" textLength="66.5" lengthAdjust="spacingAndGlyphs">GBPUSD,H1</text>
<rect x="289" y="687" width="1" height="13" fill="#8a8a8a"/>
<rect x="392" y="687" width="1" height="13" fill="#8a8a8a"/>
<rect x="497" y="687" width="1" height="13" fill="#8a8a8a"/>
<rect x="573" y="687" width="1" height="13" fill="#8a8a8a"/>
<rect x="641" y="687" width="1" height="13" fill="#8a8a8a"/>
<rect x="717" y="687" width="1" height="13" fill="#8a8a8a"/>
<rect x="809" y="687" width="1" height="13" fill="#8a8a8a"/>
<rect x="900" y="687" width="1" height="13" fill="#8a8a8a"/>
<polygon points="1185,689 1185,695 1181.8,692" fill="#a0a0a0"/>
<polygon points="1201,689 1201,695 1204.2,692" fill="#a0a0a0"/>
</svg>
</body></html>
